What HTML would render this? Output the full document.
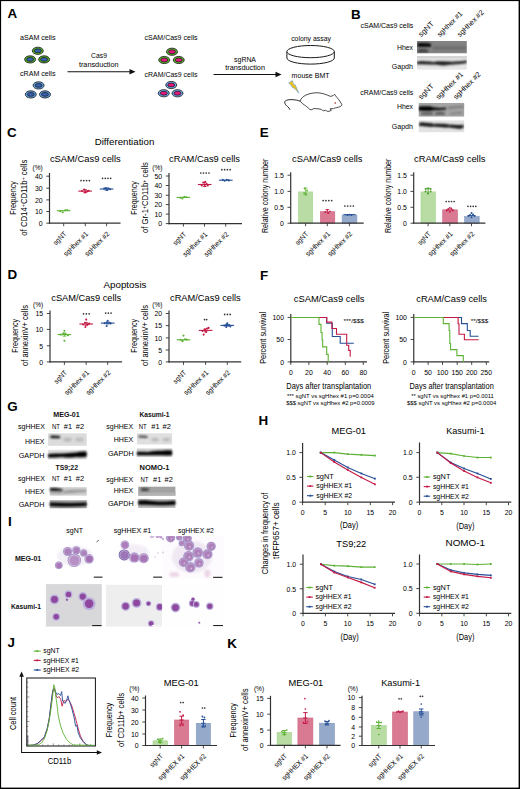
<!DOCTYPE html>
<html><head><meta charset="utf-8"><style>
html,body{margin:0;padding:0;background:#fff;}
svg{display:block;}
text{font-family:"Liberation Sans", sans-serif;}
</style></head><body>
<svg width="520" height="789" viewBox="0 0 520 789">
<defs>
<filter id="bl" x="-20%" y="-50%" width="140%" height="200%"><feGaussianBlur stdDeviation="0.8"/></filter>
<filter id="bl2" x="-20%" y="-50%" width="140%" height="200%"><feGaussianBlur stdDeviation="0.5"/></filter>
<filter id="bl4" x="-20%" y="-150%" width="140%" height="400%"><feGaussianBlur stdDeviation="0.95"/></filter>
<filter id="bl3" x="-20%" y="-20%" width="140%" height="140%"><feGaussianBlur stdDeviation="0.35"/></filter>
</defs>
<rect width="520" height="789" fill="#fff"/>
<text x="7.40" y="17.90" font-size="13.4" font-weight="bold" fill="#000" >A</text>
<text x="351.00" y="18.60" font-size="13.4" font-weight="bold" fill="#000" >B</text>
<text x="20.00" y="40.00" font-size="7" textLength="35.50" lengthAdjust="spacingAndGlyphs" >aSAM cells</text>
<ellipse cx="37.80" cy="50.80" rx="5.50" ry="3.60" fill="#5ab52e" stroke="#111" stroke-width="0.8" />
<ellipse cx="37.80" cy="50.80" rx="3.50" ry="1.95" fill="#3a5fae" stroke="#111" stroke-width="0.7" />
<ellipse cx="30.10" cy="59.40" rx="5.50" ry="3.60" fill="#5ab52e" stroke="#111" stroke-width="0.8" />
<ellipse cx="30.10" cy="59.40" rx="3.50" ry="1.95" fill="#3a5fae" stroke="#111" stroke-width="0.7" />
<ellipse cx="44.10" cy="59.40" rx="5.50" ry="3.60" fill="#5ab52e" stroke="#111" stroke-width="0.8" />
<ellipse cx="44.10" cy="59.40" rx="3.50" ry="1.95" fill="#3a5fae" stroke="#111" stroke-width="0.7" />
<text x="20.00" y="75.50" font-size="7" textLength="35.50" lengthAdjust="spacingAndGlyphs" >cRAM cells</text>
<ellipse cx="38.60" cy="85.40" rx="5.50" ry="3.60" fill="#6aaae6" stroke="#111" stroke-width="0.8" />
<ellipse cx="38.60" cy="85.40" rx="3.50" ry="1.95" fill="#3a5fae" stroke="#111" stroke-width="0.7" />
<ellipse cx="30.80" cy="94.40" rx="5.50" ry="3.60" fill="#6aaae6" stroke="#111" stroke-width="0.8" />
<ellipse cx="30.80" cy="94.40" rx="3.50" ry="1.95" fill="#3a5fae" stroke="#111" stroke-width="0.7" />
<ellipse cx="45.00" cy="94.40" rx="5.50" ry="3.60" fill="#6aaae6" stroke="#111" stroke-width="0.8" />
<ellipse cx="45.00" cy="94.40" rx="3.50" ry="1.95" fill="#3a5fae" stroke="#111" stroke-width="0.7" />
<text x="91.10" y="57.90" font-size="7" textLength="15.80" lengthAdjust="spacingAndGlyphs" >Cas9</text>
<text x="78.90" y="66.70" font-size="7" textLength="39.70" lengthAdjust="spacingAndGlyphs" >transduction</text>
<line x1="67.50" y1="71.75" x2="131.00" y2="71.75" stroke="#111" stroke-width="1" />
<path d="M135.5,71.75 L129.5,69 L129.5,74.5 Z" stroke="none" fill="#111" stroke-width="1" />
<text x="144.50" y="40.00" font-size="7" textLength="53.00" lengthAdjust="spacingAndGlyphs" >cSAM/Cas9 cells</text>
<ellipse cx="172.00" cy="51.75" rx="5.50" ry="3.60" fill="#5ab52e" stroke="#111" stroke-width="0.8" />
<ellipse cx="172.00" cy="51.75" rx="3.50" ry="1.95" fill="#e4187f" stroke="#111" stroke-width="0.7" />
<ellipse cx="164.25" cy="60.00" rx="5.50" ry="3.60" fill="#5ab52e" stroke="#111" stroke-width="0.8" />
<ellipse cx="164.25" cy="60.00" rx="3.50" ry="1.95" fill="#e4187f" stroke="#111" stroke-width="0.7" />
<ellipse cx="178.75" cy="60.00" rx="5.50" ry="3.60" fill="#5ab52e" stroke="#111" stroke-width="0.8" />
<ellipse cx="178.75" cy="60.00" rx="3.50" ry="1.95" fill="#e4187f" stroke="#111" stroke-width="0.7" />
<text x="144.50" y="77.00" font-size="7" textLength="53.00" lengthAdjust="spacingAndGlyphs" >cRAM/Cas9 cells</text>
<ellipse cx="171.25" cy="85.00" rx="5.50" ry="3.60" fill="#6aaae6" stroke="#111" stroke-width="0.8" />
<ellipse cx="171.25" cy="85.00" rx="3.50" ry="1.95" fill="#e4187f" stroke="#111" stroke-width="0.7" />
<ellipse cx="163.75" cy="93.25" rx="5.50" ry="3.60" fill="#6aaae6" stroke="#111" stroke-width="0.8" />
<ellipse cx="163.75" cy="93.25" rx="3.50" ry="1.95" fill="#e4187f" stroke="#111" stroke-width="0.7" />
<ellipse cx="177.50" cy="93.25" rx="5.50" ry="3.60" fill="#6aaae6" stroke="#111" stroke-width="0.8" />
<ellipse cx="177.50" cy="93.25" rx="3.50" ry="1.95" fill="#e4187f" stroke="#111" stroke-width="0.7" />
<text x="234.10" y="61.60" font-size="7" textLength="21.90" lengthAdjust="spacingAndGlyphs" >sgRNA</text>
<text x="225.20" y="70.00" font-size="7" textLength="39.80" lengthAdjust="spacingAndGlyphs" >transduction</text>
<line x1="213.50" y1="74.50" x2="277.00" y2="74.50" stroke="#111" stroke-width="1" />
<path d="M281.5,74.5 L275.5,71.75 L275.5,77.25 Z" stroke="none" fill="#111" stroke-width="1" />
<text x="291.20" y="40.50" font-size="7" textLength="39.70" lengthAdjust="spacingAndGlyphs" >colony assay</text>
<path d="M286.9,51.6 L286.9,58 A23.7,6.1 0 0 0 334.3,58 L334.3,51.6" stroke="#1a1a1a" fill="#fff" stroke-width="1.0" />
<ellipse cx="310.60" cy="51.60" rx="23.70" ry="6.10" fill="#fff" stroke="#1a1a1a" stroke-width="1.0" />
<text x="291.60" y="78.00" font-size="7" textLength="38.00" lengthAdjust="spacingAndGlyphs" >mouse BMT</text>
<path d="M288.6,83 L292.4,80.4 L293.6,84.6 L295.2,84.8 L298.9,93.2 L294.6,88.4 L292.4,87.6 L290.8,85 Z" stroke="#5aa0e0" fill="#f2c11d" stroke-width="0.6" />
<path d="M300,101.1 C296,99.5 288,98.8 285.3,101 C283.8,102.5 285.5,105 287.5,106.5 C288.6,107.4 289.6,108.6 290,109.8" stroke="#111" fill="none" stroke-width="0.9" />
<path d="M300,101.1 C301,98.5 303,96.5 306,95 C310,93.2 314,92.7 318,92.8 C322,93 326,94.5 330.5,96.4 L333.2,95.6 L334.6,94.2 L335.6,95.9 C337.5,98 340,101 341.9,104.6 C342,105.6 340.5,106.6 338.5,107.2 C336,107.8 334.5,108 333.5,108.6 L330,108.8 L331.5,110.3 L329,111.3 C327.5,111.6 326.5,111 325.6,110.3 L323.5,110.8 C322.5,110.8 322,109.7 321.3,109.4 C318,108.6 315.5,108.6 313.5,108.6 L311.8,109.7 L309.8,109.5 C308,107.5 305,105.3 302.5,103.6 Z" stroke="#111" fill="#fff" stroke-width="0.75" />
<circle cx="335.20" cy="103.00" r="0.75" fill="#9a1010" />
<text x="360.50" y="28.20" font-size="7" textLength="52.80" lengthAdjust="spacingAndGlyphs" >cSAM/Cas9 cells</text>
<text x="397.00" y="50.00" font-size="7" textLength="16.00" lengthAdjust="spacingAndGlyphs" >Hhex</text>
<text x="391.70" y="69.00" font-size="7" textLength="21.30" lengthAdjust="spacingAndGlyphs" >Gapdh</text>
<text x="421.20" y="37.30" font-size="7.3" textLength="18.50" lengthAdjust="spacingAndGlyphs" transform="rotate(-45 421.20 37.30)" >sgNT</text>
<text x="439.95" y="37.30" font-size="7.3" textLength="32.50" lengthAdjust="spacingAndGlyphs" transform="rotate(-45 439.95 37.30)" >sgHhex #1</text>
<text x="459.95" y="37.30" font-size="7.3" textLength="34.40" lengthAdjust="spacingAndGlyphs" transform="rotate(-45 459.95 37.30)" >sgHhex #2</text>
<clipPath id="cb1"><rect x="416.9" y="41" width="50" height="12.5"/></clipPath><g clip-path="url(#cb1)">
<rect x="416.90" y="41.00" width="50.00" height="12.50" fill="#838383" />
<path d="M417.50,43.45 L420.00,42.95 L428.00,43.15 L431.00,43.95 L431.00,46.65 L428.00,46.85 L420.00,46.65 L417.50,46.55 Z" stroke="none" fill="#000" stroke-width="1" filter="url(#bl4)" opacity="1.0"/>
<path d="M418.00,49.55 L422.00,48.90 L428.00,49.65 L428.00,52.35 L422.00,52.30 L418.00,52.45 Z" stroke="none" fill="#2a2a2a" stroke-width="1" filter="url(#bl4)" opacity="0.8"/>
<path d="M433.00,46.05 L466.00,46.05 L466.00,49.95 L433.00,49.95 Z" stroke="none" fill="#555" stroke-width="1" filter="url(#bl)" opacity="0.4"/>
</g>
<clipPath id="cb2"><rect x="416.9" y="56" width="50" height="13.75"/></clipPath><g clip-path="url(#cb2)">
<rect x="416.90" y="56.00" width="50.00" height="13.75" fill="#e6e6e6" />
<rect x="416.90" y="56.00" width="50.00" height="2.50" fill="#d4d4d4" filter="url(#bl2)"/>
<path d="M416.90,61.45 L422.00,61.05 L430.00,61.45 L434.00,61.95 L437.00,61.15 L443.00,61.15 L448.00,61.55 L452.00,61.85 L460.00,61.15 L466.90,60.55 L466.90,63.05 L460.00,64.05 L452.00,64.55 L448.00,65.05 L443.00,65.45 L437.00,64.65 L434.00,64.45 L430.00,64.55 L422.00,64.15 L416.90,64.15 Z" stroke="none" fill="#1a1a1a" stroke-width="1" filter="url(#bl4)" opacity="1.0"/>
</g>
<text x="360.30" y="95.20" font-size="7" textLength="53.00" lengthAdjust="spacingAndGlyphs" >cRAM/Cas9 cells</text>
<text x="397.00" y="109.00" font-size="7" textLength="16.00" lengthAdjust="spacingAndGlyphs" >Hhex</text>
<text x="391.70" y="129.00" font-size="7" textLength="21.30" lengthAdjust="spacingAndGlyphs" >Gapdh</text>
<text x="421.20" y="99.80" font-size="7.3" textLength="18.50" lengthAdjust="spacingAndGlyphs" transform="rotate(-45 421.20 99.80)" >sgNT</text>
<text x="438.70" y="99.80" font-size="7.3" textLength="35.50" lengthAdjust="spacingAndGlyphs" transform="rotate(-45 438.70 99.80)" >sgHhex #1</text>
<text x="456.20" y="99.80" font-size="7.3" textLength="35.50" lengthAdjust="spacingAndGlyphs" transform="rotate(-45 456.20 99.80)" >sgHhex #2</text>
<clipPath id="cb3"><rect x="418.5" y="103" width="45.9" height="13.75"/></clipPath><g clip-path="url(#cb3)">
<rect x="418.50" y="103.00" width="45.90" height="13.75" fill="#a5a5a5" />
<path d="M418.50,106.90 L421.00,106.15 L430.00,106.25 L433.00,107.25 L440.00,107.95 L446.00,107.55 L446.00,109.45 L440.00,110.05 L433.00,110.35 L430.00,110.95 L421.00,110.85 L418.50,110.30 Z" stroke="none" fill="#000" stroke-width="1" filter="url(#bl4)" opacity="1.0"/>
<path d="M448.00,106.95 L464.00,105.45 L464.00,107.55 L448.00,109.05 Z" stroke="none" fill="#666" stroke-width="1" filter="url(#bl4)" opacity="0.7"/>
<path d="M421.00,112.40 L428.00,111.95 L433.00,112.40 L433.00,114.80 L428.00,114.85 L421.00,114.80 Z" stroke="none" fill="#444" stroke-width="1" filter="url(#bl4)" opacity="0.8"/>
<path d="M435.00,112.40 L440.00,111.75 L445.00,112.40 L445.00,114.80 L440.00,114.65 L435.00,114.80 Z" stroke="none" fill="#444" stroke-width="1" filter="url(#bl4)" opacity="0.8"/>
<path d="M450.00,112.75 L462.00,111.45 L462.00,113.75 L450.00,114.85 Z" stroke="none" fill="#777" stroke-width="1" filter="url(#bl4)" opacity="0.7"/>
</g>
<clipPath id="cb4"><rect x="418.5" y="120.25" width="45.9" height="12.2"/></clipPath><g clip-path="url(#cb4)">
<rect x="418.50" y="120.25" width="45.90" height="12.20" fill="#e2e2e2" />
<path d="M419.00,122.95 L422.00,122.45 L431.00,123.35 L434.00,124.05 L437.00,123.65 L446.00,124.05 L449.00,124.75 L452.00,124.65 L460.00,125.15 L463.50,124.75 L463.50,127.65 L460.00,128.85 L452.00,127.75 L449.00,127.25 L446.00,127.55 L437.00,126.75 L434.00,126.55 L431.00,126.65 L422.00,125.95 L419.00,125.85 Z" stroke="none" fill="#080808" stroke-width="1" filter="url(#bl4)" opacity="1.0"/>
</g>
<text x="7.10" y="137.30" font-size="13.4" font-weight="bold" fill="#000" >C</text>
<text x="94.70" y="145.40" font-size="8.8" textLength="59.60" lengthAdjust="spacingAndGlyphs" >Differentiation</text>
<text x="49.90" y="162.30" font-size="8.6" textLength="70.80" lengthAdjust="spacingAndGlyphs" >cSAM/Cas9 cells</text>
<text x="169.00" y="162.30" font-size="8.6" textLength="71.00" lengthAdjust="spacingAndGlyphs" >cRAM/Cas9 cells</text>
<line x1="49.50" y1="173.00" x2="49.50" y2="223.80" stroke="#333" stroke-width="1.2" />
<line x1="46.30" y1="176.20" x2="49.50" y2="176.20" stroke="#333" stroke-width="0.9" />
<text x="42.70" y="179.05" font-size="7.3" text-anchor="end" textLength="7.70" lengthAdjust="spacingAndGlyphs" >40</text>
<line x1="46.30" y1="188.20" x2="49.50" y2="188.20" stroke="#333" stroke-width="0.9" />
<text x="42.70" y="191.05" font-size="7.3" text-anchor="end" textLength="7.70" lengthAdjust="spacingAndGlyphs" >30</text>
<line x1="46.30" y1="199.90" x2="49.50" y2="199.90" stroke="#333" stroke-width="0.9" />
<text x="42.70" y="202.75" font-size="7.3" text-anchor="end" textLength="7.70" lengthAdjust="spacingAndGlyphs" >20</text>
<line x1="46.30" y1="211.50" x2="49.50" y2="211.50" stroke="#333" stroke-width="0.9" />
<text x="42.70" y="214.35" font-size="7.3" text-anchor="end" textLength="7.70" lengthAdjust="spacingAndGlyphs" >10</text>
<line x1="46.30" y1="223.20" x2="49.50" y2="223.20" stroke="#333" stroke-width="0.9" />
<text x="42.70" y="226.05" font-size="7.3" text-anchor="end" textLength="3.85" lengthAdjust="spacingAndGlyphs" >0</text>
<line x1="48.90" y1="223.20" x2="120.50" y2="223.20" stroke="#333" stroke-width="1.2" />
<line x1="63.70" y1="223.20" x2="63.70" y2="226.20" stroke="#333" stroke-width="0.9" />
<line x1="85.30" y1="223.20" x2="85.30" y2="226.20" stroke="#333" stroke-width="0.9" />
<line x1="106.60" y1="223.20" x2="106.60" y2="226.20" stroke="#333" stroke-width="0.9" />
<text x="32.50" y="169.80" font-size="6.6" textLength="10.20" lengthAdjust="spacingAndGlyphs" >(%)</text>
<text x="15.50" y="198.00" font-size="8.6" text-anchor="middle" textLength="33.70" lengthAdjust="spacingAndGlyphs" transform="rotate(-90 15.50 198.00)" >Frequency</text>
<text x="26.70" y="197.70" font-size="8.6" text-anchor="middle" textLength="76.00" lengthAdjust="spacingAndGlyphs" transform="rotate(-90 26.70 197.70)" >of CD14<tspan baseline-shift="30%" font-size="6">+</tspan>CD11b<tspan baseline-shift="30%" font-size="6">+</tspan> cells</text>
<line x1="56.90" y1="210.70" x2="70.50" y2="210.70" stroke="#5db234" stroke-width="1.1" />
<circle cx="60.20" cy="211.20" r="1.05" fill="#5db234" />
<circle cx="62.70" cy="212.30" r="1.05" fill="#5db234" />
<circle cx="65.20" cy="210.30" r="1.05" fill="#5db234" />
<circle cx="67.20" cy="210.00" r="1.05" fill="#5db234" />
<line x1="78.30" y1="191.10" x2="91.90" y2="191.10" stroke="#c41a45" stroke-width="1.1" />
<line x1="85.10" y1="189.60" x2="85.10" y2="192.60" stroke="#c41a45" stroke-width="0.9" />
<line x1="83.30" y1="189.60" x2="86.90" y2="189.60" stroke="#c41a45" stroke-width="0.8" />
<line x1="83.30" y1="192.60" x2="86.90" y2="192.60" stroke="#c41a45" stroke-width="0.8" />
<circle cx="82.10" cy="191.00" r="1.05" fill="#c41a45" />
<circle cx="84.10" cy="189.50" r="1.05" fill="#c41a45" />
<circle cx="85.10" cy="192.50" r="1.05" fill="#c41a45" />
<circle cx="87.10" cy="191.40" r="1.05" fill="#c41a45" />
<circle cx="88.60" cy="190.80" r="1.05" fill="#c41a45" />
<line x1="99.80" y1="189.00" x2="113.40" y2="189.00" stroke="#264f96" stroke-width="1.1" />
<line x1="106.60" y1="187.80" x2="106.60" y2="190.20" stroke="#264f96" stroke-width="0.9" />
<line x1="104.80" y1="187.80" x2="108.40" y2="187.80" stroke="#264f96" stroke-width="0.8" />
<line x1="104.80" y1="190.20" x2="108.40" y2="190.20" stroke="#264f96" stroke-width="0.8" />
<circle cx="104.10" cy="188.60" r="1.05" fill="#264f96" />
<circle cx="105.60" cy="188.20" r="1.05" fill="#264f96" />
<circle cx="107.10" cy="190.00" r="1.05" fill="#264f96" />
<circle cx="108.60" cy="188.60" r="1.05" fill="#264f96" />
<circle cx="110.10" cy="189.20" r="1.05" fill="#264f96" />
<circle cx="81.05" cy="180.60" r="0.85" fill="#333" />
<circle cx="83.82" cy="180.60" r="0.85" fill="#333" />
<circle cx="86.58" cy="180.60" r="0.85" fill="#333" />
<circle cx="89.35" cy="180.60" r="0.85" fill="#333" />
<circle cx="102.55" cy="178.30" r="0.85" fill="#333" />
<circle cx="105.25" cy="178.30" r="0.85" fill="#333" />
<circle cx="107.95" cy="178.30" r="0.85" fill="#333" />
<circle cx="110.65" cy="178.30" r="0.85" fill="#333" />
<text x="67.00" y="234.50" font-size="7.2" text-anchor="end" textLength="15.50" lengthAdjust="spacingAndGlyphs" transform="rotate(-45 67.00 234.50)" >sgNT</text>
<text x="88.60" y="234.50" font-size="7.2" text-anchor="end" textLength="31.50" lengthAdjust="spacingAndGlyphs" transform="rotate(-45 88.60 234.50)" >sgHhex #1</text>
<text x="109.90" y="234.50" font-size="7.2" text-anchor="end" textLength="31.50" lengthAdjust="spacingAndGlyphs" transform="rotate(-45 109.90 234.50)" >sgHhex #2</text>
<line x1="169.00" y1="173.00" x2="169.00" y2="224.20" stroke="#333" stroke-width="1.2" />
<line x1="165.80" y1="176.00" x2="169.00" y2="176.00" stroke="#333" stroke-width="0.9" />
<text x="162.20" y="178.85" font-size="7.3" text-anchor="end" textLength="7.70" lengthAdjust="spacingAndGlyphs" >50</text>
<line x1="165.80" y1="185.50" x2="169.00" y2="185.50" stroke="#333" stroke-width="0.9" />
<text x="162.20" y="188.35" font-size="7.3" text-anchor="end" textLength="7.70" lengthAdjust="spacingAndGlyphs" >40</text>
<line x1="165.80" y1="195.30" x2="169.00" y2="195.30" stroke="#333" stroke-width="0.9" />
<text x="162.20" y="198.15" font-size="7.3" text-anchor="end" textLength="7.70" lengthAdjust="spacingAndGlyphs" >30</text>
<line x1="165.80" y1="204.60" x2="169.00" y2="204.60" stroke="#333" stroke-width="0.9" />
<text x="162.20" y="207.45" font-size="7.3" text-anchor="end" textLength="7.70" lengthAdjust="spacingAndGlyphs" >20</text>
<line x1="165.80" y1="214.10" x2="169.00" y2="214.10" stroke="#333" stroke-width="0.9" />
<text x="162.20" y="216.95" font-size="7.3" text-anchor="end" textLength="7.70" lengthAdjust="spacingAndGlyphs" >10</text>
<line x1="165.80" y1="223.60" x2="169.00" y2="223.60" stroke="#333" stroke-width="0.9" />
<text x="162.20" y="226.45" font-size="7.3" text-anchor="end" textLength="3.85" lengthAdjust="spacingAndGlyphs" >0</text>
<line x1="168.40" y1="223.60" x2="242.00" y2="223.60" stroke="#333" stroke-width="1.2" />
<line x1="183.40" y1="223.60" x2="183.40" y2="226.60" stroke="#333" stroke-width="0.9" />
<line x1="204.50" y1="223.60" x2="204.50" y2="226.60" stroke="#333" stroke-width="0.9" />
<line x1="225.70" y1="223.60" x2="225.70" y2="226.60" stroke="#333" stroke-width="0.9" />
<text x="152.30" y="169.80" font-size="6.6" textLength="10.20" lengthAdjust="spacingAndGlyphs" >(%)</text>
<text x="137.00" y="198.00" font-size="8.6" text-anchor="middle" textLength="33.70" lengthAdjust="spacingAndGlyphs" transform="rotate(-90 137.00 198.00)" >Frequency</text>
<text x="148.30" y="197.50" font-size="8.6" text-anchor="middle" textLength="70.90" lengthAdjust="spacingAndGlyphs" transform="rotate(-90 148.30 197.50)" >of Gr-1<tspan baseline-shift="30%" font-size="6">+</tspan>CD11b<tspan baseline-shift="30%" font-size="6">+</tspan> cells</text>
<line x1="176.60" y1="197.40" x2="190.20" y2="197.40" stroke="#5db234" stroke-width="1.1" />
<circle cx="180.40" cy="197.80" r="1.05" fill="#5db234" />
<circle cx="182.40" cy="198.50" r="1.05" fill="#5db234" />
<circle cx="184.40" cy="196.80" r="1.05" fill="#5db234" />
<circle cx="186.40" cy="197.20" r="1.05" fill="#5db234" />
<line x1="197.90" y1="184.50" x2="211.50" y2="184.50" stroke="#c41a45" stroke-width="1.1" />
<line x1="204.70" y1="182.50" x2="204.70" y2="186.50" stroke="#c41a45" stroke-width="0.9" />
<line x1="202.90" y1="182.50" x2="206.50" y2="182.50" stroke="#c41a45" stroke-width="0.8" />
<line x1="202.90" y1="186.50" x2="206.50" y2="186.50" stroke="#c41a45" stroke-width="0.8" />
<circle cx="201.70" cy="185.50" r="1.05" fill="#c41a45" />
<circle cx="203.20" cy="182.50" r="1.05" fill="#c41a45" />
<circle cx="204.70" cy="186.00" r="1.05" fill="#c41a45" />
<circle cx="206.70" cy="184.00" r="1.05" fill="#c41a45" />
<circle cx="207.70" cy="185.50" r="1.05" fill="#c41a45" />
<circle cx="205.20" cy="181.80" r="1.05" fill="#c41a45" />
<line x1="219.00" y1="180.20" x2="232.60" y2="180.20" stroke="#264f96" stroke-width="1.1" />
<circle cx="222.80" cy="179.90" r="1.05" fill="#264f96" />
<circle cx="224.80" cy="180.70" r="1.05" fill="#264f96" />
<circle cx="226.80" cy="179.70" r="1.05" fill="#264f96" />
<circle cx="228.80" cy="180.40" r="1.05" fill="#264f96" />
<circle cx="200.75" cy="173.00" r="0.85" fill="#333" />
<circle cx="203.48" cy="173.00" r="0.85" fill="#333" />
<circle cx="206.22" cy="173.00" r="0.85" fill="#333" />
<circle cx="208.95" cy="173.00" r="0.85" fill="#333" />
<circle cx="221.85" cy="169.70" r="0.85" fill="#333" />
<circle cx="224.62" cy="169.70" r="0.85" fill="#333" />
<circle cx="227.38" cy="169.70" r="0.85" fill="#333" />
<circle cx="230.15" cy="169.70" r="0.85" fill="#333" />
<text x="186.70" y="234.90" font-size="7.2" text-anchor="end" textLength="15.50" lengthAdjust="spacingAndGlyphs" transform="rotate(-45 186.70 234.90)" >sgNT</text>
<text x="207.80" y="234.90" font-size="7.2" text-anchor="end" textLength="31.50" lengthAdjust="spacingAndGlyphs" transform="rotate(-45 207.80 234.90)" >sgHhex #1</text>
<text x="229.00" y="234.90" font-size="7.2" text-anchor="end" textLength="31.50" lengthAdjust="spacingAndGlyphs" transform="rotate(-45 229.00 234.90)" >sgHhex #2</text>
<text x="7.40" y="279.30" font-size="13.4" font-weight="bold" fill="#000" >D</text>
<text x="103.50" y="288.00" font-size="8.8" textLength="43.00" lengthAdjust="spacingAndGlyphs" >Apoptosis</text>
<text x="51.25" y="301.30" font-size="8.6" textLength="70.00" lengthAdjust="spacingAndGlyphs" >cSAM/Cas9 cells</text>
<text x="170.00" y="301.30" font-size="8.6" textLength="70.75" lengthAdjust="spacingAndGlyphs" >cRAM/Cas9 cells</text>
<line x1="50.00" y1="310.60" x2="50.00" y2="362.50" stroke="#333" stroke-width="1.2" />
<line x1="46.80" y1="313.50" x2="50.00" y2="313.50" stroke="#333" stroke-width="0.9" />
<text x="43.20" y="316.35" font-size="7.3" text-anchor="end" textLength="7.70" lengthAdjust="spacingAndGlyphs" >15</text>
<line x1="46.80" y1="329.40" x2="50.00" y2="329.40" stroke="#333" stroke-width="0.9" />
<text x="43.20" y="332.25" font-size="7.3" text-anchor="end" textLength="7.70" lengthAdjust="spacingAndGlyphs" >10</text>
<line x1="46.80" y1="345.80" x2="50.00" y2="345.80" stroke="#333" stroke-width="0.9" />
<text x="43.20" y="348.65" font-size="7.3" text-anchor="end" textLength="3.85" lengthAdjust="spacingAndGlyphs" >5</text>
<line x1="46.80" y1="361.90" x2="50.00" y2="361.90" stroke="#333" stroke-width="0.9" />
<text x="43.20" y="364.75" font-size="7.3" text-anchor="end" textLength="3.85" lengthAdjust="spacingAndGlyphs" >0</text>
<line x1="49.40" y1="361.90" x2="122.10" y2="361.90" stroke="#333" stroke-width="1.2" />
<line x1="64.40" y1="361.90" x2="64.40" y2="364.90" stroke="#333" stroke-width="0.9" />
<line x1="86.20" y1="361.90" x2="86.20" y2="364.90" stroke="#333" stroke-width="0.9" />
<line x1="107.70" y1="361.90" x2="107.70" y2="364.90" stroke="#333" stroke-width="0.9" />
<text x="33.10" y="306.70" font-size="6.6" textLength="10.20" lengthAdjust="spacingAndGlyphs" >(%)</text>
<text x="17.60" y="335.80" font-size="8.6" text-anchor="middle" textLength="33.70" lengthAdjust="spacingAndGlyphs" transform="rotate(-90 17.60 335.80)" >Frequency</text>
<text x="28.20" y="335.50" font-size="8.6" text-anchor="middle" textLength="60.80" lengthAdjust="spacingAndGlyphs" transform="rotate(-90 28.20 335.50)" >of annexinV+ cells</text>
<line x1="57.60" y1="334.60" x2="71.20" y2="334.60" stroke="#5db234" stroke-width="1.1" />
<line x1="64.40" y1="333.00" x2="64.40" y2="336.20" stroke="#5db234" stroke-width="0.9" />
<line x1="62.60" y1="333.00" x2="66.20" y2="333.00" stroke="#5db234" stroke-width="0.8" />
<line x1="62.60" y1="336.20" x2="66.20" y2="336.20" stroke="#5db234" stroke-width="0.8" />
<circle cx="60.90" cy="334.60" r="1.05" fill="#5db234" />
<circle cx="63.40" cy="333.60" r="1.05" fill="#5db234" />
<circle cx="64.40" cy="330.80" r="1.05" fill="#5db234" />
<circle cx="65.90" cy="334.20" r="1.05" fill="#5db234" />
<circle cx="67.90" cy="335.30" r="1.05" fill="#5db234" />
<circle cx="64.40" cy="340.80" r="1.05" fill="#5db234" />
<line x1="79.40" y1="324.00" x2="93.00" y2="324.00" stroke="#c41a45" stroke-width="1.1" />
<line x1="86.20" y1="322.60" x2="86.20" y2="325.40" stroke="#c41a45" stroke-width="0.9" />
<line x1="84.40" y1="322.60" x2="88.00" y2="322.60" stroke="#c41a45" stroke-width="0.8" />
<line x1="84.40" y1="325.40" x2="88.00" y2="325.40" stroke="#c41a45" stroke-width="0.8" />
<circle cx="83.20" cy="324.50" r="1.05" fill="#c41a45" />
<circle cx="85.00" cy="322.80" r="1.05" fill="#c41a45" />
<circle cx="86.20" cy="319.60" r="1.05" fill="#c41a45" />
<circle cx="87.70" cy="324.60" r="1.05" fill="#c41a45" />
<circle cx="89.20" cy="323.60" r="1.05" fill="#c41a45" />
<circle cx="85.40" cy="327.00" r="1.05" fill="#c41a45" />
<line x1="100.90" y1="323.10" x2="114.50" y2="323.10" stroke="#264f96" stroke-width="1.1" />
<line x1="107.70" y1="322.20" x2="107.70" y2="324.00" stroke="#264f96" stroke-width="0.9" />
<line x1="105.90" y1="322.20" x2="109.50" y2="322.20" stroke="#264f96" stroke-width="0.8" />
<line x1="105.90" y1="324.00" x2="109.50" y2="324.00" stroke="#264f96" stroke-width="0.8" />
<circle cx="104.70" cy="323.20" r="1.05" fill="#264f96" />
<circle cx="106.70" cy="322.50" r="1.05" fill="#264f96" />
<circle cx="107.70" cy="320.80" r="1.05" fill="#264f96" />
<circle cx="109.70" cy="322.80" r="1.05" fill="#264f96" />
<circle cx="110.70" cy="323.50" r="1.05" fill="#264f96" />
<circle cx="106.70" cy="326.00" r="1.05" fill="#264f96" />
<circle cx="83.55" cy="313.80" r="0.85" fill="#333" />
<circle cx="86.35" cy="313.80" r="0.85" fill="#333" />
<circle cx="89.15" cy="313.80" r="0.85" fill="#333" />
<circle cx="105.65" cy="313.10" r="0.85" fill="#333" />
<circle cx="108.35" cy="313.10" r="0.85" fill="#333" />
<circle cx="111.05" cy="313.10" r="0.85" fill="#333" />
<text x="67.70" y="373.20" font-size="7.2" text-anchor="end" textLength="15.50" lengthAdjust="spacingAndGlyphs" transform="rotate(-45 67.70 373.20)" >sgNT</text>
<text x="89.50" y="373.20" font-size="7.2" text-anchor="end" textLength="31.50" lengthAdjust="spacingAndGlyphs" transform="rotate(-45 89.50 373.20)" >sgHhex #1</text>
<text x="111.00" y="373.20" font-size="7.2" text-anchor="end" textLength="31.50" lengthAdjust="spacingAndGlyphs" transform="rotate(-45 111.00 373.20)" >sgHhex #2</text>
<line x1="169.00" y1="310.60" x2="169.00" y2="362.50" stroke="#333" stroke-width="1.2" />
<line x1="165.80" y1="313.50" x2="169.00" y2="313.50" stroke="#333" stroke-width="0.9" />
<text x="162.20" y="316.35" font-size="7.3" text-anchor="end" textLength="7.70" lengthAdjust="spacingAndGlyphs" >20</text>
<line x1="165.80" y1="325.60" x2="169.00" y2="325.60" stroke="#333" stroke-width="0.9" />
<text x="162.20" y="328.45" font-size="7.3" text-anchor="end" textLength="7.70" lengthAdjust="spacingAndGlyphs" >15</text>
<line x1="165.80" y1="337.90" x2="169.00" y2="337.90" stroke="#333" stroke-width="0.9" />
<text x="162.20" y="340.75" font-size="7.3" text-anchor="end" textLength="7.70" lengthAdjust="spacingAndGlyphs" >10</text>
<line x1="165.80" y1="350.00" x2="169.00" y2="350.00" stroke="#333" stroke-width="0.9" />
<text x="162.20" y="352.85" font-size="7.3" text-anchor="end" textLength="3.85" lengthAdjust="spacingAndGlyphs" >5</text>
<line x1="165.80" y1="361.90" x2="169.00" y2="361.90" stroke="#333" stroke-width="0.9" />
<text x="162.20" y="364.75" font-size="7.3" text-anchor="end" textLength="3.85" lengthAdjust="spacingAndGlyphs" >0</text>
<line x1="168.40" y1="361.90" x2="241.20" y2="361.90" stroke="#333" stroke-width="1.2" />
<line x1="183.50" y1="361.90" x2="183.50" y2="364.90" stroke="#333" stroke-width="0.9" />
<line x1="205.60" y1="361.90" x2="205.60" y2="364.90" stroke="#333" stroke-width="0.9" />
<line x1="227.30" y1="361.90" x2="227.30" y2="364.90" stroke="#333" stroke-width="0.9" />
<text x="152.30" y="306.70" font-size="6.6" textLength="10.20" lengthAdjust="spacingAndGlyphs" >(%)</text>
<text x="137.10" y="335.80" font-size="8.6" text-anchor="middle" textLength="33.70" lengthAdjust="spacingAndGlyphs" transform="rotate(-90 137.10 335.80)" >Frequency</text>
<text x="147.70" y="335.50" font-size="8.6" text-anchor="middle" textLength="60.80" lengthAdjust="spacingAndGlyphs" transform="rotate(-90 147.70 335.50)" >of annexinV+ cells</text>
<line x1="176.70" y1="339.80" x2="190.30" y2="339.80" stroke="#5db234" stroke-width="1.1" />
<circle cx="180.50" cy="339.80" r="1.05" fill="#5db234" />
<circle cx="182.50" cy="340.50" r="1.05" fill="#5db234" />
<circle cx="183.50" cy="335.60" r="1.05" fill="#5db234" />
<circle cx="185.00" cy="339.20" r="1.05" fill="#5db234" />
<circle cx="186.50" cy="339.60" r="1.05" fill="#5db234" />
<circle cx="182.50" cy="341.30" r="1.05" fill="#5db234" />
<line x1="198.80" y1="330.40" x2="212.40" y2="330.40" stroke="#c41a45" stroke-width="1.1" />
<line x1="205.60" y1="328.90" x2="205.60" y2="331.90" stroke="#c41a45" stroke-width="0.9" />
<line x1="203.80" y1="328.90" x2="207.40" y2="328.90" stroke="#c41a45" stroke-width="0.8" />
<line x1="203.80" y1="331.90" x2="207.40" y2="331.90" stroke="#c41a45" stroke-width="0.8" />
<circle cx="202.60" cy="331.00" r="1.05" fill="#c41a45" />
<circle cx="204.60" cy="329.50" r="1.05" fill="#c41a45" />
<circle cx="203.70" cy="334.60" r="1.05" fill="#c41a45" />
<circle cx="207.10" cy="328.50" r="1.05" fill="#c41a45" />
<circle cx="208.60" cy="327.90" r="1.05" fill="#c41a45" />
<circle cx="206.10" cy="332.00" r="1.05" fill="#c41a45" />
<line x1="220.50" y1="325.40" x2="234.10" y2="325.40" stroke="#264f96" stroke-width="1.1" />
<line x1="227.30" y1="324.60" x2="227.30" y2="326.20" stroke="#264f96" stroke-width="0.9" />
<line x1="225.50" y1="324.60" x2="229.10" y2="324.60" stroke="#264f96" stroke-width="0.8" />
<line x1="225.50" y1="326.20" x2="229.10" y2="326.20" stroke="#264f96" stroke-width="0.8" />
<circle cx="224.30" cy="325.60" r="1.05" fill="#264f96" />
<circle cx="226.30" cy="324.50" r="1.05" fill="#264f96" />
<circle cx="227.30" cy="323.20" r="1.05" fill="#264f96" />
<circle cx="229.30" cy="325.00" r="1.05" fill="#264f96" />
<circle cx="230.30" cy="326.50" r="1.05" fill="#264f96" />
<circle cx="226.30" cy="327.00" r="1.05" fill="#264f96" />
<circle cx="204.55" cy="319.60" r="0.85" fill="#333" />
<circle cx="206.65" cy="319.60" r="0.85" fill="#333" />
<circle cx="224.65" cy="314.40" r="0.85" fill="#333" />
<circle cx="227.40" cy="314.40" r="0.85" fill="#333" />
<circle cx="230.15" cy="314.40" r="0.85" fill="#333" />
<text x="186.80" y="373.20" font-size="7.2" text-anchor="end" textLength="15.50" lengthAdjust="spacingAndGlyphs" transform="rotate(-45 186.80 373.20)" >sgNT</text>
<text x="208.90" y="373.20" font-size="7.2" text-anchor="end" textLength="31.50" lengthAdjust="spacingAndGlyphs" transform="rotate(-45 208.90 373.20)" >sgHhex #1</text>
<text x="230.60" y="373.20" font-size="7.2" text-anchor="end" textLength="31.50" lengthAdjust="spacingAndGlyphs" transform="rotate(-45 230.60 373.20)" >sgHhex #2</text>
<text x="259.80" y="137.10" font-size="13.4" font-weight="bold" fill="#000" >E</text>
<text x="292.00" y="162.30" font-size="8.6" textLength="70.50" lengthAdjust="spacingAndGlyphs" >cSAM/Cas9 cells</text>
<text x="414.00" y="162.30" font-size="8.6" textLength="71.50" lengthAdjust="spacingAndGlyphs" >cRAM/Cas9 cells</text>
<line x1="290.70" y1="172.30" x2="290.70" y2="223.80" stroke="#333" stroke-width="1.2" />
<line x1="287.50" y1="175.20" x2="290.70" y2="175.20" stroke="#333" stroke-width="0.9" />
<text x="283.90" y="178.05" font-size="7.3" text-anchor="end" textLength="9.60" lengthAdjust="spacingAndGlyphs" >1.5</text>
<line x1="287.50" y1="191.40" x2="290.70" y2="191.40" stroke="#333" stroke-width="0.9" />
<text x="283.90" y="194.25" font-size="7.3" text-anchor="end" textLength="9.60" lengthAdjust="spacingAndGlyphs" >1.0</text>
<line x1="287.50" y1="207.30" x2="290.70" y2="207.30" stroke="#333" stroke-width="0.9" />
<text x="283.90" y="210.15" font-size="7.3" text-anchor="end" textLength="9.60" lengthAdjust="spacingAndGlyphs" >0.5</text>
<line x1="287.50" y1="223.20" x2="290.70" y2="223.20" stroke="#333" stroke-width="0.9" />
<text x="283.90" y="226.05" font-size="7.3" text-anchor="end" textLength="3.85" lengthAdjust="spacingAndGlyphs" >0</text>
<rect x="298.50" y="191.90" width="14.20" height="31.30" fill="#b8dca3" stroke="#a3d48c" stroke-width="0.6"/>
<rect x="320.40" y="211.70" width="14.40" height="11.50" fill="#d97a92" stroke="#cc6682" stroke-width="0.6"/>
<rect x="342.10" y="215.00" width="14.80" height="8.20" fill="#95a9cb" stroke="#8399c0" stroke-width="0.6"/>
<line x1="290.10" y1="223.20" x2="363.70" y2="223.20" stroke="#333" stroke-width="1.2" />
<line x1="305.60" y1="223.20" x2="305.60" y2="226.20" stroke="#333" stroke-width="0.9" />
<line x1="327.30" y1="223.20" x2="327.30" y2="226.20" stroke="#333" stroke-width="0.9" />
<line x1="349.40" y1="223.20" x2="349.40" y2="226.20" stroke="#333" stroke-width="0.9" />
<text x="268.20" y="195.80" font-size="8.6" text-anchor="middle" textLength="74.50" lengthAdjust="spacingAndGlyphs" transform="rotate(-90 268.20 195.80)" >Relative colony number</text>
<line x1="305.60" y1="188.00" x2="305.60" y2="195.00" stroke="#5db234" stroke-width="0.8" />
<line x1="303.80" y1="188.00" x2="307.40" y2="188.00" stroke="#5db234" stroke-width="0.8" />
<line x1="303.80" y1="195.00" x2="307.40" y2="195.00" stroke="#5db234" stroke-width="0.8" />
<circle cx="304.60" cy="188.50" r="0.90" fill="#5db234" />
<circle cx="307.10" cy="190.50" r="0.90" fill="#5db234" />
<circle cx="304.10" cy="193.20" r="0.90" fill="#5db234" />
<circle cx="306.10" cy="194.00" r="0.90" fill="#5db234" />
<line x1="327.30" y1="209.50" x2="327.30" y2="213.50" stroke="#c41a45" stroke-width="0.8" />
<line x1="325.50" y1="209.50" x2="329.10" y2="209.50" stroke="#c41a45" stroke-width="0.8" />
<circle cx="325.30" cy="212.00" r="0.90" fill="#c41a45" />
<circle cx="327.30" cy="209.80" r="0.90" fill="#c41a45" />
<circle cx="328.30" cy="213.00" r="0.90" fill="#c41a45" />
<circle cx="329.80" cy="211.30" r="0.90" fill="#c41a45" />
<line x1="343.50" y1="214.60" x2="355.50" y2="214.60" stroke="#264f96" stroke-width="1.0" />
<circle cx="347.40" cy="215.20" r="0.90" fill="#264f96" />
<circle cx="349.40" cy="214.60" r="0.90" fill="#264f96" />
<circle cx="351.40" cy="215.00" r="0.90" fill="#264f96" />
<circle cx="323.15" cy="200.60" r="0.85" fill="#333" />
<circle cx="325.98" cy="200.60" r="0.85" fill="#333" />
<circle cx="328.82" cy="200.60" r="0.85" fill="#333" />
<circle cx="331.65" cy="200.60" r="0.85" fill="#333" />
<circle cx="344.85" cy="206.00" r="0.85" fill="#333" />
<circle cx="347.68" cy="206.00" r="0.85" fill="#333" />
<circle cx="350.52" cy="206.00" r="0.85" fill="#333" />
<circle cx="353.35" cy="206.00" r="0.85" fill="#333" />
<text x="308.90" y="234.50" font-size="7.2" text-anchor="end" textLength="15.50" lengthAdjust="spacingAndGlyphs" transform="rotate(-45 308.90 234.50)" >sgNT</text>
<text x="330.60" y="234.50" font-size="7.2" text-anchor="end" textLength="31.50" lengthAdjust="spacingAndGlyphs" transform="rotate(-45 330.60 234.50)" >sgHhex #1</text>
<text x="352.70" y="234.50" font-size="7.2" text-anchor="end" textLength="31.50" lengthAdjust="spacingAndGlyphs" transform="rotate(-45 352.70 234.50)" >sgHhex #2</text>
<line x1="413.70" y1="172.30" x2="413.70" y2="223.80" stroke="#333" stroke-width="1.2" />
<line x1="410.50" y1="175.20" x2="413.70" y2="175.20" stroke="#333" stroke-width="0.9" />
<text x="406.90" y="178.05" font-size="7.3" text-anchor="end" textLength="9.60" lengthAdjust="spacingAndGlyphs" >1.5</text>
<line x1="410.50" y1="191.40" x2="413.70" y2="191.40" stroke="#333" stroke-width="0.9" />
<text x="406.90" y="194.25" font-size="7.3" text-anchor="end" textLength="9.60" lengthAdjust="spacingAndGlyphs" >1.0</text>
<line x1="410.50" y1="207.30" x2="413.70" y2="207.30" stroke="#333" stroke-width="0.9" />
<text x="406.90" y="210.15" font-size="7.3" text-anchor="end" textLength="9.60" lengthAdjust="spacingAndGlyphs" >0.5</text>
<line x1="410.50" y1="223.20" x2="413.70" y2="223.20" stroke="#333" stroke-width="0.9" />
<text x="406.90" y="226.05" font-size="7.3" text-anchor="end" textLength="3.85" lengthAdjust="spacingAndGlyphs" >0</text>
<rect x="421.00" y="191.90" width="14.40" height="31.30" fill="#b8dca3" stroke="#a3d48c" stroke-width="0.6"/>
<rect x="442.70" y="209.80" width="14.80" height="13.40" fill="#d97a92" stroke="#cc6682" stroke-width="0.6"/>
<rect x="464.60" y="216.50" width="14.60" height="6.70" fill="#95a9cb" stroke="#8399c0" stroke-width="0.6"/>
<line x1="413.10" y1="223.20" x2="485.40" y2="223.20" stroke="#333" stroke-width="1.2" />
<line x1="428.10" y1="223.20" x2="428.10" y2="226.20" stroke="#333" stroke-width="0.9" />
<line x1="449.80" y1="223.20" x2="449.80" y2="226.20" stroke="#333" stroke-width="0.9" />
<line x1="471.50" y1="223.20" x2="471.50" y2="226.20" stroke="#333" stroke-width="0.9" />
<text x="391.10" y="195.80" font-size="8.6" text-anchor="middle" textLength="74.50" lengthAdjust="spacingAndGlyphs" transform="rotate(-90 391.10 195.80)" >Relative colony number</text>
<line x1="428.10" y1="188.30" x2="428.10" y2="194.00" stroke="#4a9a28" stroke-width="0.9" />
<line x1="426.30" y1="188.30" x2="429.90" y2="188.30" stroke="#4a9a28" stroke-width="0.9" />
<circle cx="425.60" cy="189.00" r="1.00" fill="#4a9a28" />
<circle cx="428.10" cy="188.50" r="1.00" fill="#4a9a28" />
<circle cx="430.60" cy="189.00" r="1.00" fill="#4a9a28" />
<circle cx="425.60" cy="191.50" r="1.00" fill="#4a9a28" />
<circle cx="428.10" cy="193.50" r="1.00" fill="#4a9a28" />
<circle cx="430.60" cy="191.50" r="1.00" fill="#4a9a28" />
<circle cx="446.80" cy="210.50" r="0.90" fill="#c41a45" />
<circle cx="448.30" cy="208.80" r="0.90" fill="#c41a45" />
<circle cx="449.80" cy="211.80" r="0.90" fill="#c41a45" />
<circle cx="451.30" cy="208.50" r="0.90" fill="#c41a45" />
<circle cx="452.80" cy="210.50" r="0.90" fill="#c41a45" />
<circle cx="449.80" cy="207.80" r="0.90" fill="#c41a45" />
<line x1="446.00" y1="210.00" x2="453.60" y2="210.00" stroke="#c41a45" stroke-width="0.9" />
<line x1="467.50" y1="215.50" x2="475.50" y2="215.50" stroke="#264f96" stroke-width="0.9" />
<circle cx="468.50" cy="216.00" r="1.00" fill="#264f96" />
<circle cx="470.00" cy="215.00" r="1.00" fill="#264f96" />
<circle cx="471.50" cy="217.20" r="1.00" fill="#264f96" />
<circle cx="473.00" cy="214.50" r="1.00" fill="#264f96" />
<circle cx="474.50" cy="216.00" r="1.00" fill="#264f96" />
<circle cx="471.50" cy="213.00" r="1.00" fill="#264f96" />
<circle cx="446.25" cy="201.50" r="0.85" fill="#333" />
<circle cx="448.88" cy="201.50" r="0.85" fill="#333" />
<circle cx="451.52" cy="201.50" r="0.85" fill="#333" />
<circle cx="454.15" cy="201.50" r="0.85" fill="#333" />
<circle cx="467.95" cy="206.30" r="0.85" fill="#333" />
<circle cx="470.58" cy="206.30" r="0.85" fill="#333" />
<circle cx="473.22" cy="206.30" r="0.85" fill="#333" />
<circle cx="475.85" cy="206.30" r="0.85" fill="#333" />
<text x="431.40" y="234.50" font-size="7.2" text-anchor="end" textLength="15.50" lengthAdjust="spacingAndGlyphs" transform="rotate(-45 431.40 234.50)" >sgNT</text>
<text x="453.10" y="234.50" font-size="7.2" text-anchor="end" textLength="31.50" lengthAdjust="spacingAndGlyphs" transform="rotate(-45 453.10 234.50)" >sgHhex #1</text>
<text x="474.80" y="234.50" font-size="7.2" text-anchor="end" textLength="31.50" lengthAdjust="spacingAndGlyphs" transform="rotate(-45 474.80 234.50)" >sgHhex #2</text>
<text x="260.10" y="279.60" font-size="13.4" font-weight="bold" fill="#000" >F</text>
<text x="293.75" y="302.00" font-size="8.6" textLength="70.75" lengthAdjust="spacingAndGlyphs" >cSAM/Cas9 cells</text>
<text x="416.25" y="302.00" font-size="8.6" textLength="70.75" lengthAdjust="spacingAndGlyphs" >cRAM/Cas9 cells</text>
<line x1="290.80" y1="314.00" x2="290.80" y2="362.50" stroke="#333" stroke-width="1.2" />
<line x1="287.60" y1="317.40" x2="290.80" y2="317.40" stroke="#333" stroke-width="0.9" />
<text x="284.00" y="320.25" font-size="7.3" text-anchor="end" textLength="11.55" lengthAdjust="spacingAndGlyphs" >100</text>
<line x1="287.60" y1="339.50" x2="290.80" y2="339.50" stroke="#333" stroke-width="0.9" />
<text x="284.00" y="342.35" font-size="7.3" text-anchor="end" textLength="7.70" lengthAdjust="spacingAndGlyphs" >50</text>
<line x1="287.60" y1="361.90" x2="290.80" y2="361.90" stroke="#333" stroke-width="0.9" />
<text x="284.00" y="364.75" font-size="7.3" text-anchor="end" textLength="3.85" lengthAdjust="spacingAndGlyphs" >0</text>
<line x1="290.20" y1="361.90" x2="367.00" y2="361.90" stroke="#333" stroke-width="1.2" />
<line x1="290.80" y1="361.90" x2="290.80" y2="364.90" stroke="#333" stroke-width="0.9" />
<text x="290.80" y="374.80" font-size="7.3" text-anchor="middle" textLength="3.85" lengthAdjust="spacingAndGlyphs" >0</text>
<line x1="308.90" y1="361.90" x2="308.90" y2="364.90" stroke="#333" stroke-width="0.9" />
<text x="308.90" y="374.80" font-size="7.3" text-anchor="middle" textLength="7.70" lengthAdjust="spacingAndGlyphs" >20</text>
<line x1="327.20" y1="361.90" x2="327.20" y2="364.90" stroke="#333" stroke-width="0.9" />
<text x="327.20" y="374.80" font-size="7.3" text-anchor="middle" textLength="7.70" lengthAdjust="spacingAndGlyphs" >40</text>
<line x1="345.30" y1="361.90" x2="345.30" y2="364.90" stroke="#333" stroke-width="0.9" />
<text x="345.30" y="374.80" font-size="7.3" text-anchor="middle" textLength="7.70" lengthAdjust="spacingAndGlyphs" >60</text>
<line x1="363.30" y1="361.90" x2="363.30" y2="364.90" stroke="#333" stroke-width="0.9" />
<text x="363.30" y="374.80" font-size="7.3" text-anchor="middle" textLength="7.70" lengthAdjust="spacingAndGlyphs" >80</text>
<text x="266.20" y="337.80" font-size="8.6" text-anchor="middle" textLength="52.00" lengthAdjust="spacingAndGlyphs" transform="rotate(-90 266.20 337.80)" >Percent survival</text>
<path d="M290.8,317.5 H326.7 V323.3 H332.3 V336.5 H340.2 V343.2 H353.8" stroke="#264f96" fill="none" stroke-width="1.1" />
<path d="M290.8,317.5 H326.7 V322.1 H331.9 V328.5 H336.5 V334.2 H346.7 V345.2 H348.7 V350.4 H350.2 V356.7" stroke="#c41a45" fill="none" stroke-width="1.1" />
<path d="M290.8,317.5 H319 V324.4 H321 V332.5 H322.1 V340 H322.7 V346.9 H326.7 V354.4 H328.2 V361.9" stroke="#5db234" fill="none" stroke-width="1.1" />
<text x="343.50" y="322.50" font-size="6" textLength="20.50" lengthAdjust="spacingAndGlyphs" >***/$$$</text>
<line x1="413.75" y1="314.00" x2="413.75" y2="362.50" stroke="#333" stroke-width="1.2" />
<line x1="410.55" y1="317.40" x2="413.75" y2="317.40" stroke="#333" stroke-width="0.9" />
<text x="406.95" y="320.25" font-size="7.3" text-anchor="end" textLength="11.55" lengthAdjust="spacingAndGlyphs" >100</text>
<line x1="410.55" y1="339.50" x2="413.75" y2="339.50" stroke="#333" stroke-width="0.9" />
<text x="406.95" y="342.35" font-size="7.3" text-anchor="end" textLength="7.70" lengthAdjust="spacingAndGlyphs" >50</text>
<line x1="410.55" y1="361.90" x2="413.75" y2="361.90" stroke="#333" stroke-width="0.9" />
<text x="406.95" y="364.75" font-size="7.3" text-anchor="end" textLength="3.85" lengthAdjust="spacingAndGlyphs" >0</text>
<line x1="413.15" y1="361.90" x2="489.20" y2="361.90" stroke="#333" stroke-width="1.2" />
<line x1="413.75" y1="361.90" x2="413.75" y2="364.90" stroke="#333" stroke-width="0.9" />
<text x="413.75" y="374.80" font-size="7.3" text-anchor="middle" textLength="3.85" lengthAdjust="spacingAndGlyphs" >0</text>
<line x1="428.10" y1="361.90" x2="428.10" y2="364.90" stroke="#333" stroke-width="0.9" />
<text x="428.10" y="374.80" font-size="7.3" text-anchor="middle" textLength="7.70" lengthAdjust="spacingAndGlyphs" >50</text>
<line x1="442.50" y1="361.90" x2="442.50" y2="364.90" stroke="#333" stroke-width="0.9" />
<text x="442.50" y="374.80" font-size="7.3" text-anchor="middle" textLength="11.55" lengthAdjust="spacingAndGlyphs" >100</text>
<line x1="457.20" y1="361.90" x2="457.20" y2="364.90" stroke="#333" stroke-width="0.9" />
<text x="457.20" y="374.80" font-size="7.3" text-anchor="middle" textLength="11.55" lengthAdjust="spacingAndGlyphs" >150</text>
<line x1="471.70" y1="361.90" x2="471.70" y2="364.90" stroke="#333" stroke-width="0.9" />
<text x="471.70" y="374.80" font-size="7.3" text-anchor="middle" textLength="11.55" lengthAdjust="spacingAndGlyphs" >200</text>
<line x1="486.30" y1="361.90" x2="486.30" y2="364.90" stroke="#333" stroke-width="0.9" />
<text x="486.30" y="374.80" font-size="7.3" text-anchor="middle" textLength="11.55" lengthAdjust="spacingAndGlyphs" >250</text>
<text x="389.20" y="337.80" font-size="8.6" text-anchor="middle" textLength="52.00" lengthAdjust="spacingAndGlyphs" transform="rotate(-90 389.20 337.80)" >Percent survival</text>
<path d="M413.75,317.5 H461.5 V323.6 H467.3 V330.5 H470.2 V336.3 H478.6" stroke="#264f96" fill="none" stroke-width="1.1" />
<path d="M413.75,317.5 H458.1 V323.8 H459 V334.2 H464.4 V339.8 H478.6" stroke="#c41a45" fill="none" stroke-width="1.1" />
<path d="M413.75,317.5 H443.3 V323.6 H449.1 V330.5 H449.8 V343.5 H450.6 V349.6 H456.9 V355.6 H463.3 V361.9" stroke="#5db234" fill="none" stroke-width="1.1" />
<text x="470.80" y="322.50" font-size="6" textLength="17.50" lengthAdjust="spacingAndGlyphs" >**/$$$</text>
<text x="286.25" y="389.30" font-size="9.3" textLength="85.00" lengthAdjust="spacingAndGlyphs" >Days after transplantation</text>
<text x="409.50" y="389.30" font-size="9.3" textLength="84.25" lengthAdjust="spacingAndGlyphs" >Days after transplantation</text>
<text x="287.00" y="398.20" font-size="5.9" textLength="86.75" lengthAdjust="spacingAndGlyphs" >*** sgNT vs sgHhex #1 p=0.0004</text>
<text x="286.25" y="405.20" font-size="5.9" textLength="88.25" lengthAdjust="spacingAndGlyphs" >$$$ sgNT vs sgHhex #2 p=0.0009</text>
<text x="411.25" y="398.20" font-size="5.9" textLength="82.50" lengthAdjust="spacingAndGlyphs" >** sgNT vs sgHhex #1 p=0.0011</text>
<text x="407.00" y="405.20" font-size="5.9" textLength="89.25" lengthAdjust="spacingAndGlyphs" >$$$ sgNT vs sgHhex #2 p=0.0004</text>
<text x="7.30" y="411.30" font-size="13.4" font-weight="bold" fill="#000" >G</text>
<text x="53.25" y="417.00" font-size="6.6" font-weight="bold" fill="#111" textLength="26.50" lengthAdjust="spacingAndGlyphs" >MEG-01</text>
<text x="18.00" y="428.70" font-size="6.6" textLength="27.00" lengthAdjust="spacingAndGlyphs" >sgHHEX</text>
<text x="52.00" y="428.70" font-size="6.6" textLength="8.00" lengthAdjust="spacingAndGlyphs" >NT</text>
<text x="63.75" y="428.70" font-size="6.6" textLength="8.30" lengthAdjust="spacingAndGlyphs" >#1</text>
<text x="75.75" y="428.70" font-size="6.6" textLength="8.30" lengthAdjust="spacingAndGlyphs" >#2</text>
<text x="25.00" y="443.70" font-size="6.6" textLength="19.50" lengthAdjust="spacingAndGlyphs" >HHEX</text>
<text x="18.75" y="458.00" font-size="6.6" textLength="25.70" lengthAdjust="spacingAndGlyphs" >GAPDH</text>
<rect x="48.10" y="433.30" width="38.60" height="12.50" fill="#dcdcdc" />
<path d="M50.40,435.85 L52.00,435.45 L58.00,435.65 L60.20,436.15 L60.20,438.25 L58.00,438.35 L52.00,438.15 L50.40,437.95 Z" stroke="none" fill="#151515" stroke-width="1" filter="url(#bl4)" opacity="1.0"/>
<ellipse cx="67.50" cy="439.60" rx="4.50" ry="2.20" fill="#b9b9b9" stroke="none" stroke-width="1" filter="url(#bl)"/>
<ellipse cx="79.50" cy="439.60" rx="4.50" ry="2.20" fill="#bdbdbd" stroke="none" stroke-width="1" filter="url(#bl)"/>
<rect x="48.10" y="449.80" width="38.60" height="9.60" fill="#dedede" />
<path d="M48.10,454.05 L55.00,453.55 L62.00,453.55 L66.00,453.25 L72.00,452.85 L76.00,452.55 L80.00,451.65 L85.00,451.45 L86.70,452.05 L86.70,456.55 L85.00,456.95 L80.00,457.15 L76.00,457.05 L72.00,457.55 L66.00,457.55 L62.00,457.05 L55.00,457.45 L48.10,457.55 Z" stroke="none" fill="#050505" stroke-width="1" filter="url(#bl4)" opacity="1.0"/>
<text x="55.50" y="470.00" font-size="6.6" font-weight="bold" fill="#111" textLength="22.50" lengthAdjust="spacingAndGlyphs" >TS9;22</text>
<text x="18.00" y="481.20" font-size="6.6" textLength="27.00" lengthAdjust="spacingAndGlyphs" >sgHHEX</text>
<text x="52.00" y="481.20" font-size="6.6" textLength="8.00" lengthAdjust="spacingAndGlyphs" >NT</text>
<text x="63.75" y="481.20" font-size="6.6" textLength="8.30" lengthAdjust="spacingAndGlyphs" >#1</text>
<text x="75.75" y="481.20" font-size="6.6" textLength="8.30" lengthAdjust="spacingAndGlyphs" >#2</text>
<text x="25.00" y="494.20" font-size="6.6" textLength="19.50" lengthAdjust="spacingAndGlyphs" >HHEX</text>
<text x="18.75" y="507.00" font-size="6.6" textLength="25.70" lengthAdjust="spacingAndGlyphs" >GAPDH</text>
<rect x="49.80" y="487.20" width="36.90" height="8.40" fill="#cfcfcf" />
<path d="M50.00,488.25 L55.00,488.05 L60.00,488.75 L62.50,489.55 L62.50,491.25 L60.00,491.25 L55.00,491.15 L50.00,490.95 Z" stroke="none" fill="#111" stroke-width="1" filter="url(#bl4)" opacity="1.0"/>
<path d="M63.00,491.15 L70.00,490.25 L78.00,490.05 L86.00,490.05 L86.00,491.95 L78.00,492.35 L70.00,492.95 L63.00,493.25 Z" stroke="none" fill="#8a8a8a" stroke-width="1" filter="url(#bl4)" opacity="0.9"/>
<path d="M50.00,491.65 L62.00,491.75 L62.00,493.85 L50.00,493.55 Z" stroke="none" fill="#888" stroke-width="1" filter="url(#bl4)" opacity="0.7"/>
<rect x="49.80" y="500.20" width="36.90" height="8.10" fill="#a9a9a9" />
<path d="M49.80,502.55 L60.00,502.75 L70.00,503.05 L80.00,502.85 L86.70,502.55 L86.70,505.85 L80.00,506.35 L70.00,506.55 L60.00,506.45 L49.80,506.05 Z" stroke="none" fill="#050505" stroke-width="1" filter="url(#bl4)" opacity="1.0"/>
<text x="139.50" y="417.00" font-size="6.6" font-weight="bold" fill="#111" textLength="30.00" lengthAdjust="spacingAndGlyphs" >Kasumi-1</text>
<text x="106.25" y="428.70" font-size="6.6" textLength="27.00" lengthAdjust="spacingAndGlyphs" >sgHHEX</text>
<text x="138.75" y="428.70" font-size="6.6" textLength="8.00" lengthAdjust="spacingAndGlyphs" >NT</text>
<text x="151.25" y="428.70" font-size="6.6" textLength="8.30" lengthAdjust="spacingAndGlyphs" >#1</text>
<text x="162.50" y="428.70" font-size="6.6" textLength="8.30" lengthAdjust="spacingAndGlyphs" >#2</text>
<text x="113.75" y="442.00" font-size="6.6" textLength="19.50" lengthAdjust="spacingAndGlyphs" >HHEX</text>
<text x="108.00" y="456.20" font-size="6.6" textLength="25.70" lengthAdjust="spacingAndGlyphs" >GAPDH</text>
<rect x="136.90" y="433.30" width="35.20" height="11.20" fill="#dfdfdf" />
<path d="M138.50,435.55 L142.00,435.55 L147.50,436.05 L147.50,437.95 L142.00,437.85 L138.50,437.45 Z" stroke="none" fill="#444" stroke-width="1" filter="url(#bl4)" opacity="1.0"/>
<ellipse cx="155.00" cy="439.60" rx="4.00" ry="1.80" fill="#bbb" stroke="none" stroke-width="1" filter="url(#bl)"/>
<ellipse cx="166.50" cy="439.60" rx="4.00" ry="1.80" fill="#bbb" stroke="none" stroke-width="1" filter="url(#bl)"/>
<rect x="136.90" y="448.40" width="35.20" height="8.40" fill="#d6d6d6" />
<path d="M136.90,451.85 L143.00,451.65 L148.00,452.05 L152.00,451.15 L158.00,450.75 L162.00,450.65 L167.00,450.15 L172.10,450.45 L172.10,455.35 L167.00,455.45 L162.00,455.15 L158.00,455.25 L152.00,455.25 L148.00,455.15 L143.00,455.35 L136.90,455.35 Z" stroke="none" fill="#050505" stroke-width="1" filter="url(#bl4)" opacity="1.0"/>
<text x="139.50" y="470.00" font-size="6.6" font-weight="bold" fill="#111" textLength="30.00" lengthAdjust="spacingAndGlyphs" >NOMO-1</text>
<text x="106.25" y="482.00" font-size="6.6" textLength="27.00" lengthAdjust="spacingAndGlyphs" >sgHHEX</text>
<text x="140.50" y="482.00" font-size="6.6" textLength="8.00" lengthAdjust="spacingAndGlyphs" >NT</text>
<text x="153.00" y="482.00" font-size="6.6" textLength="8.30" lengthAdjust="spacingAndGlyphs" >#1</text>
<text x="164.50" y="482.00" font-size="6.6" textLength="8.30" lengthAdjust="spacingAndGlyphs" >#2</text>
<text x="113.75" y="493.00" font-size="6.6" textLength="19.50" lengthAdjust="spacingAndGlyphs" >HHEX</text>
<text x="108.00" y="505.50" font-size="6.6" textLength="25.70" lengthAdjust="spacingAndGlyphs" >GAPDH</text>
<rect x="138.20" y="486.70" width="37.20" height="8.90" fill="#a2a2a2" />
<rect x="138.20" y="492.50" width="37.20" height="3.10" fill="#b2b2b2" filter="url(#bl2)"/>
<path d="M141.00,488.70 L144.00,488.35 L149.00,488.80 L149.00,490.60 L144.00,490.65 L141.00,490.50 Z" stroke="none" fill="#2a2a2a" stroke-width="1" filter="url(#bl4)" opacity="1.0"/>
<rect x="138.20" y="499.20" width="37.20" height="8.70" fill="#b8b8b8" />
<path d="M138.20,500.55 L145.00,500.35 L152.00,500.95 L158.00,501.45 L166.00,501.45 L175.40,500.85 L175.40,504.75 L166.00,505.35 L158.00,505.35 L152.00,505.05 L145.00,504.85 L138.20,504.65 Z" stroke="none" fill="#050505" stroke-width="1" filter="url(#bl4)" opacity="1.0"/>
<text x="258.40" y="424.60" font-size="13.4" font-weight="bold" fill="#000" >H</text>
<text x="331.50" y="433.80" font-size="8.6" textLength="34.50" lengthAdjust="spacingAndGlyphs" >MEG-01</text>
<line x1="302.60" y1="443.00" x2="302.60" y2="502.80" stroke="#333" stroke-width="1.2" />
<line x1="299.40" y1="452.60" x2="302.60" y2="452.60" stroke="#333" stroke-width="0.9" />
<text x="295.80" y="455.45" font-size="7.3" text-anchor="end" textLength="9.60" lengthAdjust="spacingAndGlyphs" >1.0</text>
<line x1="299.40" y1="477.30" x2="302.60" y2="477.30" stroke="#333" stroke-width="0.9" />
<text x="295.80" y="480.15" font-size="7.3" text-anchor="end" textLength="9.60" lengthAdjust="spacingAndGlyphs" >0.5</text>
<line x1="299.40" y1="502.20" x2="302.60" y2="502.20" stroke="#333" stroke-width="0.9" />
<text x="295.80" y="505.05" font-size="7.3" text-anchor="end" textLength="3.85" lengthAdjust="spacingAndGlyphs" >0</text>
<line x1="302.00" y1="502.20" x2="395.00" y2="502.20" stroke="#333" stroke-width="1.2" />
<line x1="302.60" y1="502.20" x2="302.60" y2="505.20" stroke="#333" stroke-width="0.9" />
<text x="302.60" y="515.00" font-size="7.3" text-anchor="middle" textLength="3.85" lengthAdjust="spacingAndGlyphs" >0</text>
<line x1="325.20" y1="502.20" x2="325.20" y2="505.20" stroke="#333" stroke-width="0.9" />
<text x="325.20" y="515.00" font-size="7.3" text-anchor="middle" textLength="3.85" lengthAdjust="spacingAndGlyphs" >5</text>
<line x1="347.80" y1="502.20" x2="347.80" y2="505.20" stroke="#333" stroke-width="0.9" />
<text x="347.80" y="515.00" font-size="7.3" text-anchor="middle" textLength="7.70" lengthAdjust="spacingAndGlyphs" >10</text>
<line x1="370.30" y1="502.20" x2="370.30" y2="505.20" stroke="#333" stroke-width="0.9" />
<text x="370.30" y="515.00" font-size="7.3" text-anchor="middle" textLength="7.70" lengthAdjust="spacingAndGlyphs" >15</text>
<line x1="392.60" y1="502.20" x2="392.60" y2="505.20" stroke="#333" stroke-width="0.9" />
<text x="392.60" y="515.00" font-size="7.3" text-anchor="middle" textLength="7.70" lengthAdjust="spacingAndGlyphs" >20</text>
<text x="340.00" y="528.00" font-size="8.8" textLength="18.20" lengthAdjust="spacingAndGlyphs" >(Day)</text>
<polyline points="320.68,452.60 334.24,452.60 347.80,454.09 361.36,454.83 374.92,455.58" fill="none" stroke="#5db234" stroke-width="1.1"/>
<rect x="319.78" y="451.70" width="1.80" height="1.80" fill="#5db234" />
<rect x="333.34" y="451.70" width="1.80" height="1.80" fill="#5db234" />
<rect x="346.90" y="453.19" width="1.80" height="1.80" fill="#5db234" />
<rect x="360.46" y="453.93" width="1.80" height="1.80" fill="#5db234" />
<rect x="374.02" y="454.68" width="1.80" height="1.80" fill="#5db234" />
<polyline points="320.68,452.60 334.24,460.04 347.80,467.48 361.36,473.43 374.92,478.64" fill="none" stroke="#264f96" stroke-width="1.1"/>
<rect x="319.78" y="451.70" width="1.80" height="1.80" fill="#264f96" />
<rect x="333.34" y="459.14" width="1.80" height="1.80" fill="#264f96" />
<rect x="346.90" y="466.58" width="1.80" height="1.80" fill="#264f96" />
<rect x="360.46" y="472.53" width="1.80" height="1.80" fill="#264f96" />
<rect x="374.02" y="477.74" width="1.80" height="1.80" fill="#264f96" />
<polyline points="320.68,452.60 334.24,462.02 347.80,469.96 361.36,477.40 374.92,484.34" fill="none" stroke="#c41a45" stroke-width="1.1"/>
<rect x="319.78" y="451.70" width="1.80" height="1.80" fill="#c41a45" />
<rect x="333.34" y="461.12" width="1.80" height="1.80" fill="#c41a45" />
<rect x="346.90" y="469.06" width="1.80" height="1.80" fill="#c41a45" />
<rect x="360.46" y="476.50" width="1.80" height="1.80" fill="#c41a45" />
<rect x="374.02" y="483.44" width="1.80" height="1.80" fill="#c41a45" />
<line x1="307.00" y1="476.50" x2="313.50" y2="476.50" stroke="#5db234" stroke-width="1.1" />
<rect x="309.40" y="475.60" width="1.80" height="1.80" fill="#5db234" />
<text x="316.20" y="478.80" font-size="6.8" textLength="17.50" lengthAdjust="spacingAndGlyphs" >sgNT</text>
<line x1="307.00" y1="486.10" x2="313.50" y2="486.10" stroke="#c41a45" stroke-width="1.1" />
<rect x="309.40" y="485.20" width="1.80" height="1.80" fill="#c41a45" />
<text x="316.20" y="488.40" font-size="6.8" textLength="36.00" lengthAdjust="spacingAndGlyphs" >sgHHEX #1</text>
<line x1="307.00" y1="495.70" x2="313.50" y2="495.70" stroke="#264f96" stroke-width="1.1" />
<rect x="309.40" y="494.80" width="1.80" height="1.80" fill="#264f96" />
<text x="316.20" y="498.00" font-size="6.8" textLength="36.00" lengthAdjust="spacingAndGlyphs" >sgHHEX #2</text>
<text x="446.25" y="433.80" font-size="8.6" textLength="38.25" lengthAdjust="spacingAndGlyphs" >Kasumi-1</text>
<line x1="419.50" y1="442.50" x2="419.50" y2="502.80" stroke="#333" stroke-width="1.2" />
<line x1="416.30" y1="452.60" x2="419.50" y2="452.60" stroke="#333" stroke-width="0.9" />
<text x="412.70" y="455.45" font-size="7.3" text-anchor="end" textLength="9.60" lengthAdjust="spacingAndGlyphs" >1.0</text>
<line x1="416.30" y1="477.30" x2="419.50" y2="477.30" stroke="#333" stroke-width="0.9" />
<text x="412.70" y="480.15" font-size="7.3" text-anchor="end" textLength="9.60" lengthAdjust="spacingAndGlyphs" >0.5</text>
<line x1="416.30" y1="502.20" x2="419.50" y2="502.20" stroke="#333" stroke-width="0.9" />
<text x="412.70" y="505.05" font-size="7.3" text-anchor="end" textLength="3.85" lengthAdjust="spacingAndGlyphs" >0</text>
<line x1="418.90" y1="502.20" x2="511.30" y2="502.20" stroke="#333" stroke-width="1.2" />
<line x1="419.50" y1="502.20" x2="419.50" y2="505.20" stroke="#333" stroke-width="0.9" />
<text x="419.50" y="515.00" font-size="7.3" text-anchor="middle" textLength="3.85" lengthAdjust="spacingAndGlyphs" >0</text>
<line x1="441.80" y1="502.20" x2="441.80" y2="505.20" stroke="#333" stroke-width="0.9" />
<text x="441.80" y="515.00" font-size="7.3" text-anchor="middle" textLength="3.85" lengthAdjust="spacingAndGlyphs" >5</text>
<line x1="464.00" y1="502.20" x2="464.00" y2="505.20" stroke="#333" stroke-width="0.9" />
<text x="464.00" y="515.00" font-size="7.3" text-anchor="middle" textLength="7.70" lengthAdjust="spacingAndGlyphs" >10</text>
<line x1="486.30" y1="502.20" x2="486.30" y2="505.20" stroke="#333" stroke-width="0.9" />
<text x="486.30" y="515.00" font-size="7.3" text-anchor="middle" textLength="7.70" lengthAdjust="spacingAndGlyphs" >15</text>
<line x1="508.50" y1="502.20" x2="508.50" y2="505.20" stroke="#333" stroke-width="0.9" />
<text x="508.50" y="515.00" font-size="7.3" text-anchor="middle" textLength="7.70" lengthAdjust="spacingAndGlyphs" >20</text>
<text x="456.25" y="528.50" font-size="8.8" textLength="18.20" lengthAdjust="spacingAndGlyphs" >(Day)</text>
<polyline points="437.34,452.60 450.72,453.59 464.10,456.07 477.48,457.56 490.86,457.56" fill="none" stroke="#5db234" stroke-width="1.1"/>
<rect x="436.44" y="451.70" width="1.80" height="1.80" fill="#5db234" />
<rect x="449.82" y="452.69" width="1.80" height="1.80" fill="#5db234" />
<rect x="463.20" y="455.17" width="1.80" height="1.80" fill="#5db234" />
<rect x="476.58" y="456.66" width="1.80" height="1.80" fill="#5db234" />
<rect x="489.96" y="456.66" width="1.80" height="1.80" fill="#5db234" />
<polyline points="437.34,452.60 450.72,462.52 464.10,468.47 477.48,473.43 490.86,478.89" fill="none" stroke="#264f96" stroke-width="1.1"/>
<rect x="436.44" y="451.70" width="1.80" height="1.80" fill="#264f96" />
<rect x="449.82" y="461.62" width="1.80" height="1.80" fill="#264f96" />
<rect x="463.20" y="467.57" width="1.80" height="1.80" fill="#264f96" />
<rect x="476.58" y="472.53" width="1.80" height="1.80" fill="#264f96" />
<rect x="489.96" y="477.99" width="1.80" height="1.80" fill="#264f96" />
<polyline points="437.34,452.60 450.72,463.02 464.10,470.95 477.48,477.40 490.86,482.86" fill="none" stroke="#c41a45" stroke-width="1.1"/>
<rect x="436.44" y="451.70" width="1.80" height="1.80" fill="#c41a45" />
<rect x="449.82" y="462.12" width="1.80" height="1.80" fill="#c41a45" />
<rect x="463.20" y="470.05" width="1.80" height="1.80" fill="#c41a45" />
<rect x="476.58" y="476.50" width="1.80" height="1.80" fill="#c41a45" />
<rect x="489.96" y="481.96" width="1.80" height="1.80" fill="#c41a45" />
<line x1="423.70" y1="477.00" x2="430.20" y2="477.00" stroke="#5db234" stroke-width="1.1" />
<rect x="426.10" y="476.10" width="1.80" height="1.80" fill="#5db234" />
<text x="432.90" y="479.30" font-size="6.8" textLength="17.50" lengthAdjust="spacingAndGlyphs" >sgNT</text>
<line x1="423.70" y1="486.60" x2="430.20" y2="486.60" stroke="#c41a45" stroke-width="1.1" />
<rect x="426.10" y="485.70" width="1.80" height="1.80" fill="#c41a45" />
<text x="432.90" y="488.90" font-size="6.8" textLength="36.00" lengthAdjust="spacingAndGlyphs" >sgHHEX #1</text>
<line x1="423.70" y1="496.20" x2="430.20" y2="496.20" stroke="#264f96" stroke-width="1.1" />
<rect x="426.10" y="495.30" width="1.80" height="1.80" fill="#264f96" />
<text x="432.90" y="498.50" font-size="6.8" textLength="36.00" lengthAdjust="spacingAndGlyphs" >sgHHEX #2</text>
<text x="336.25" y="547.00" font-size="8.6" textLength="30.00" lengthAdjust="spacingAndGlyphs" >TS9;22</text>
<line x1="303.00" y1="554.50" x2="303.00" y2="613.90" stroke="#333" stroke-width="1.2" />
<line x1="299.80" y1="564.20" x2="303.00" y2="564.20" stroke="#333" stroke-width="0.9" />
<text x="296.20" y="567.05" font-size="7.3" text-anchor="end" textLength="9.60" lengthAdjust="spacingAndGlyphs" >1.0</text>
<line x1="299.80" y1="588.80" x2="303.00" y2="588.80" stroke="#333" stroke-width="0.9" />
<text x="296.20" y="591.65" font-size="7.3" text-anchor="end" textLength="9.60" lengthAdjust="spacingAndGlyphs" >0.5</text>
<line x1="299.80" y1="613.30" x2="303.00" y2="613.30" stroke="#333" stroke-width="0.9" />
<text x="296.20" y="616.15" font-size="7.3" text-anchor="end" textLength="3.85" lengthAdjust="spacingAndGlyphs" >0</text>
<line x1="302.40" y1="613.30" x2="395.00" y2="613.30" stroke="#333" stroke-width="1.2" />
<line x1="303.00" y1="613.30" x2="303.00" y2="616.30" stroke="#333" stroke-width="0.9" />
<text x="303.00" y="626.10" font-size="7.3" text-anchor="middle" textLength="3.85" lengthAdjust="spacingAndGlyphs" >0</text>
<line x1="325.40" y1="613.30" x2="325.40" y2="616.30" stroke="#333" stroke-width="0.9" />
<text x="325.40" y="626.10" font-size="7.3" text-anchor="middle" textLength="3.85" lengthAdjust="spacingAndGlyphs" >5</text>
<line x1="347.70" y1="613.30" x2="347.70" y2="616.30" stroke="#333" stroke-width="0.9" />
<text x="347.70" y="626.10" font-size="7.3" text-anchor="middle" textLength="7.70" lengthAdjust="spacingAndGlyphs" >10</text>
<line x1="370.10" y1="613.30" x2="370.10" y2="616.30" stroke="#333" stroke-width="0.9" />
<text x="370.10" y="626.10" font-size="7.3" text-anchor="middle" textLength="7.70" lengthAdjust="spacingAndGlyphs" >15</text>
<line x1="392.50" y1="613.30" x2="392.50" y2="616.30" stroke="#333" stroke-width="0.9" />
<text x="392.50" y="626.10" font-size="7.3" text-anchor="middle" textLength="7.70" lengthAdjust="spacingAndGlyphs" >20</text>
<text x="340.50" y="639.50" font-size="8.8" textLength="18.20" lengthAdjust="spacingAndGlyphs" >(Day)</text>
<polyline points="320.92,564.20 334.36,565.67 347.80,566.16 361.24,567.15 374.68,567.15" fill="none" stroke="#5db234" stroke-width="1.1"/>
<rect x="320.02" y="563.30" width="1.80" height="1.80" fill="#5db234" />
<rect x="333.46" y="564.77" width="1.80" height="1.80" fill="#5db234" />
<rect x="346.90" y="565.26" width="1.80" height="1.80" fill="#5db234" />
<rect x="360.34" y="566.25" width="1.80" height="1.80" fill="#5db234" />
<rect x="373.78" y="566.25" width="1.80" height="1.80" fill="#5db234" />
<polyline points="320.92,564.20 334.36,571.57 347.80,576.48 361.24,579.42 374.68,584.33" fill="none" stroke="#264f96" stroke-width="1.1"/>
<rect x="320.02" y="563.30" width="1.80" height="1.80" fill="#264f96" />
<rect x="333.46" y="570.67" width="1.80" height="1.80" fill="#264f96" />
<rect x="346.90" y="575.58" width="1.80" height="1.80" fill="#264f96" />
<rect x="360.34" y="578.52" width="1.80" height="1.80" fill="#264f96" />
<rect x="373.78" y="583.43" width="1.80" height="1.80" fill="#264f96" />
<polyline points="320.92,564.20 334.36,572.55 347.80,577.46 361.24,582.37 374.68,587.77" fill="none" stroke="#c41a45" stroke-width="1.1"/>
<rect x="320.02" y="563.30" width="1.80" height="1.80" fill="#c41a45" />
<rect x="333.46" y="571.65" width="1.80" height="1.80" fill="#c41a45" />
<rect x="346.90" y="576.56" width="1.80" height="1.80" fill="#c41a45" />
<rect x="360.34" y="581.47" width="1.80" height="1.80" fill="#c41a45" />
<rect x="373.78" y="586.87" width="1.80" height="1.80" fill="#c41a45" />
<line x1="306.30" y1="587.50" x2="312.80" y2="587.50" stroke="#5db234" stroke-width="1.1" />
<rect x="308.70" y="586.60" width="1.80" height="1.80" fill="#5db234" />
<text x="315.50" y="589.80" font-size="6.8" textLength="17.50" lengthAdjust="spacingAndGlyphs" >sgNT</text>
<line x1="306.30" y1="597.10" x2="312.80" y2="597.10" stroke="#c41a45" stroke-width="1.1" />
<rect x="308.70" y="596.20" width="1.80" height="1.80" fill="#c41a45" />
<text x="315.50" y="599.40" font-size="6.8" textLength="36.00" lengthAdjust="spacingAndGlyphs" >sgHHEX #1</text>
<line x1="306.30" y1="606.70" x2="312.80" y2="606.70" stroke="#264f96" stroke-width="1.1" />
<rect x="308.70" y="605.80" width="1.80" height="1.80" fill="#264f96" />
<text x="315.50" y="609.00" font-size="6.8" textLength="36.00" lengthAdjust="spacingAndGlyphs" >sgHHEX #2</text>
<text x="445.50" y="545.80" font-size="8.6" textLength="39.50" lengthAdjust="spacingAndGlyphs" >NOMO-1</text>
<line x1="419.50" y1="554.50" x2="419.50" y2="613.90" stroke="#333" stroke-width="1.2" />
<line x1="416.30" y1="564.00" x2="419.50" y2="564.00" stroke="#333" stroke-width="0.9" />
<text x="412.70" y="566.85" font-size="7.3" text-anchor="end" textLength="9.60" lengthAdjust="spacingAndGlyphs" >1.0</text>
<line x1="416.30" y1="588.60" x2="419.50" y2="588.60" stroke="#333" stroke-width="0.9" />
<text x="412.70" y="591.45" font-size="7.3" text-anchor="end" textLength="9.60" lengthAdjust="spacingAndGlyphs" >0.5</text>
<line x1="416.30" y1="613.30" x2="419.50" y2="613.30" stroke="#333" stroke-width="0.9" />
<text x="412.70" y="616.15" font-size="7.3" text-anchor="end" textLength="3.85" lengthAdjust="spacingAndGlyphs" >0</text>
<line x1="418.90" y1="613.30" x2="511.30" y2="613.30" stroke="#333" stroke-width="1.2" />
<line x1="419.50" y1="613.30" x2="419.50" y2="616.30" stroke="#333" stroke-width="0.9" />
<text x="419.50" y="626.10" font-size="7.3" text-anchor="middle" textLength="3.85" lengthAdjust="spacingAndGlyphs" >0</text>
<line x1="441.80" y1="613.30" x2="441.80" y2="616.30" stroke="#333" stroke-width="0.9" />
<text x="441.80" y="626.10" font-size="7.3" text-anchor="middle" textLength="3.85" lengthAdjust="spacingAndGlyphs" >5</text>
<line x1="464.00" y1="613.30" x2="464.00" y2="616.30" stroke="#333" stroke-width="0.9" />
<text x="464.00" y="626.10" font-size="7.3" text-anchor="middle" textLength="7.70" lengthAdjust="spacingAndGlyphs" >10</text>
<line x1="486.30" y1="613.30" x2="486.30" y2="616.30" stroke="#333" stroke-width="0.9" />
<text x="486.30" y="626.10" font-size="7.3" text-anchor="middle" textLength="7.70" lengthAdjust="spacingAndGlyphs" >15</text>
<line x1="508.50" y1="613.30" x2="508.50" y2="616.30" stroke="#333" stroke-width="0.9" />
<text x="508.50" y="626.10" font-size="7.3" text-anchor="middle" textLength="7.70" lengthAdjust="spacingAndGlyphs" >20</text>
<text x="456.25" y="639.50" font-size="8.8" textLength="18.20" lengthAdjust="spacingAndGlyphs" >(Day)</text>
<polyline points="437.34,564.00 450.72,564.00 464.10,564.00 477.48,564.49 490.86,564.00" fill="none" stroke="#5db234" stroke-width="1.1"/>
<rect x="436.44" y="563.10" width="1.80" height="1.80" fill="#5db234" />
<rect x="449.82" y="563.10" width="1.80" height="1.80" fill="#5db234" />
<rect x="463.20" y="563.10" width="1.80" height="1.80" fill="#5db234" />
<rect x="476.58" y="563.59" width="1.80" height="1.80" fill="#5db234" />
<rect x="489.96" y="563.10" width="1.80" height="1.80" fill="#5db234" />
<polyline points="437.34,564.00 450.72,569.92 464.10,572.87 477.48,574.35 490.86,575.34" fill="none" stroke="#264f96" stroke-width="1.1"/>
<rect x="436.44" y="563.10" width="1.80" height="1.80" fill="#264f96" />
<rect x="449.82" y="569.02" width="1.80" height="1.80" fill="#264f96" />
<rect x="463.20" y="571.97" width="1.80" height="1.80" fill="#264f96" />
<rect x="476.58" y="573.45" width="1.80" height="1.80" fill="#264f96" />
<rect x="489.96" y="574.44" width="1.80" height="1.80" fill="#264f96" />
<polyline points="437.34,564.00 450.72,571.39 464.10,574.35 477.48,576.33 490.86,577.80" fill="none" stroke="#c41a45" stroke-width="1.1"/>
<rect x="436.44" y="563.10" width="1.80" height="1.80" fill="#c41a45" />
<rect x="449.82" y="570.50" width="1.80" height="1.80" fill="#c41a45" />
<rect x="463.20" y="573.45" width="1.80" height="1.80" fill="#c41a45" />
<rect x="476.58" y="575.43" width="1.80" height="1.80" fill="#c41a45" />
<rect x="489.96" y="576.90" width="1.80" height="1.80" fill="#c41a45" />
<line x1="423.70" y1="587.50" x2="430.20" y2="587.50" stroke="#5db234" stroke-width="1.1" />
<rect x="426.10" y="586.60" width="1.80" height="1.80" fill="#5db234" />
<text x="432.90" y="589.80" font-size="6.8" textLength="17.50" lengthAdjust="spacingAndGlyphs" >sgNT</text>
<line x1="423.70" y1="597.10" x2="430.20" y2="597.10" stroke="#c41a45" stroke-width="1.1" />
<rect x="426.10" y="596.20" width="1.80" height="1.80" fill="#c41a45" />
<text x="432.90" y="599.40" font-size="6.8" textLength="36.00" lengthAdjust="spacingAndGlyphs" >sgHHEX #1</text>
<line x1="423.70" y1="606.70" x2="430.20" y2="606.70" stroke="#264f96" stroke-width="1.1" />
<rect x="426.10" y="605.80" width="1.80" height="1.80" fill="#264f96" />
<text x="432.90" y="609.00" font-size="6.8" textLength="36.00" lengthAdjust="spacingAndGlyphs" >sgHHEX #2</text>
<text x="267.80" y="533.40" font-size="8.6" text-anchor="middle" textLength="81.50" lengthAdjust="spacingAndGlyphs" transform="rotate(-90 267.80 533.40)" >Changes in frequency of</text>
<text x="278.60" y="530.70" font-size="8.6" text-anchor="middle" textLength="56.80" lengthAdjust="spacingAndGlyphs" transform="rotate(-90 278.60 530.70)" >tRFP657+ cells</text>
<text x="8.00" y="526.00" font-size="13.4" font-weight="bold" fill="#000" >I</text>
<text x="66.25" y="532.50" font-size="7.2" textLength="16.75" lengthAdjust="spacingAndGlyphs" >sgNT</text>
<text x="113.75" y="532.50" font-size="7.2" textLength="37.50" lengthAdjust="spacingAndGlyphs" >sgHHEX #1</text>
<text x="178.00" y="532.50" font-size="7.2" textLength="35.75" lengthAdjust="spacingAndGlyphs" >sgHHEX #2</text>
<text x="15.00" y="561.30" font-size="6.6" font-weight="bold" fill="#111" textLength="26.25" lengthAdjust="spacingAndGlyphs" >MEG-01</text>
<text x="11.00" y="609.00" font-size="6.6" font-weight="bold" fill="#111" textLength="30.00" lengthAdjust="spacingAndGlyphs" >Kasumi-1</text>
<clipPath id="cia"><rect x="45.5" y="536.3" width="57.0" height="42.7"/></clipPath><g clip-path="url(#cia)">
<ellipse cx="75.00" cy="556.00" rx="18.00" ry="10.00" fill="#f3eff6" stroke="none" stroke-width="1" filter="url(#bl)"/>
<circle cx="67.60" cy="551.50" r="4.50" fill="#9a8ac6" />
<circle cx="67.60" cy="551.50" r="3.95" fill="#c8abd3" />
<circle cx="67.80" cy="551.70" r="3.24" fill="#ab80bb" filter="url(#bl2)"/>
<circle cx="76.30" cy="550.20" r="4.00" fill="#9a8ac6" />
<circle cx="76.30" cy="550.20" r="3.45" fill="#c8abd3" />
<circle cx="76.50" cy="550.40" r="2.88" fill="#ab80bb" filter="url(#bl2)"/>
<circle cx="83.70" cy="552.90" r="3.60" fill="#9a8ac6" />
<circle cx="83.70" cy="552.90" r="3.05" fill="#c8abd3" />
<circle cx="83.90" cy="553.10" r="2.59" fill="#ab80bb" filter="url(#bl2)"/>
<circle cx="89.10" cy="558.90" r="4.60" fill="#9a8ac6" />
<circle cx="89.10" cy="558.90" r="4.05" fill="#c8abd3" />
<circle cx="89.30" cy="559.10" r="3.31" fill="#a070b2" filter="url(#bl2)"/>
<circle cx="74.30" cy="560.30" r="6.70" fill="#9a8ac6" />
<circle cx="74.30" cy="560.30" r="6.15" fill="#cdb5da" />
<circle cx="74.50" cy="560.50" r="4.82" fill="#b690c4" filter="url(#bl2)"/>
<circle cx="58.80" cy="565.30" r="3.80" fill="#9a8ac6" />
<circle cx="58.80" cy="565.30" r="3.25" fill="#c8abd3" />
<circle cx="59.00" cy="565.50" r="2.74" fill="#a978b8" filter="url(#bl2)"/>
<rect x="93.80" y="576.60" width="9.20" height="1.10" fill="#222" />
<path d="M96.5,542 L98.8,540.2" stroke="#333" fill="none" stroke-width="0.8" />
</g>
<clipPath id="cib"><rect x="105.5" y="536.3" width="56.8" height="42.7"/></clipPath><g clip-path="url(#cib)">
<ellipse cx="134.00" cy="553.00" rx="15.00" ry="9.00" fill="#f3eef6" stroke="none" stroke-width="1" filter="url(#bl)"/>
<circle cx="124.90" cy="544.80" r="4.30" fill="#9a8ac6" />
<circle cx="124.90" cy="544.80" r="3.75" fill="#c8abd3" />
<circle cx="125.10" cy="545.00" r="3.10" fill="#ad7cbb" filter="url(#bl2)"/>
<circle cx="124.20" cy="554.90" r="5.50" fill="#5a4c9c" />
<circle cx="124.20" cy="554.90" r="4.95" fill="#b8a0d0" />
<circle cx="124.40" cy="555.10" r="3.96" fill="#9c74b6" filter="url(#bl2)"/>
<circle cx="134.30" cy="557.60" r="5.00" fill="#9a8ac6" />
<circle cx="134.30" cy="557.60" r="4.45" fill="#c8abd3" />
<circle cx="134.50" cy="557.80" r="3.60" fill="#a672b4" filter="url(#bl2)"/>
<circle cx="143.70" cy="558.30" r="5.00" fill="#9a8ac6" />
<circle cx="143.70" cy="558.30" r="4.45" fill="#c8abd3" />
<circle cx="143.90" cy="558.50" r="3.60" fill="#a876b6" filter="url(#bl2)"/>
<circle cx="152.00" cy="535.50" r="2.50" fill="#c8a8d4" />
<circle cx="157.50" cy="535.80" r="2.20" fill="#b890c8" />
<circle cx="161.50" cy="536.00" r="2.50" fill="#b890c8" />
<circle cx="158.00" cy="553.00" r="0.80" fill="#d8b8d8" />
<circle cx="155.00" cy="557.00" r="0.70" fill="#d8c0e0" />
<rect x="153.20" y="576.60" width="9.80" height="1.10" fill="#222" />
</g>
<clipPath id="cic"><rect x="162.3" y="536.3" width="61.7" height="42.7"/></clipPath><g clip-path="url(#cic)">
<rect x="162.30" y="536.30" width="61.70" height="42.70" fill="#fdfbfd" />
<ellipse cx="192.00" cy="557.00" rx="20.00" ry="16.00" fill="#f0e8f3" stroke="none" stroke-width="1" filter="url(#bl)"/>
<circle cx="170.60" cy="537.80" r="4.60" fill="#9a94cc" />
<circle cx="170.60" cy="537.80" r="4.00" fill="#bc98c8" />
<circle cx="170.90" cy="538.10" r="2.99" fill="#ad80ba" filter="url(#bl2)"/>
<circle cx="171.40" cy="538.80" r="0.83" fill="#dccbe3" filter="url(#bl3)" opacity="0.8"/>
<circle cx="179.20" cy="537.20" r="3.20" fill="#9a94cc" />
<circle cx="179.20" cy="537.20" r="2.60" fill="#bc98c8" />
<circle cx="179.50" cy="537.50" r="2.08" fill="#ad80ba" filter="url(#bl2)"/>
<circle cx="180.00" cy="538.20" r="0.58" fill="#dccbe3" filter="url(#bl3)" opacity="0.8"/>
<circle cx="187.20" cy="538.40" r="4.60" fill="#9a94cc" />
<circle cx="187.20" cy="538.40" r="4.00" fill="#bc98c8" />
<circle cx="187.50" cy="538.70" r="2.99" fill="#ad80ba" filter="url(#bl2)"/>
<circle cx="188.00" cy="539.40" r="0.83" fill="#dccbe3" filter="url(#bl3)" opacity="0.8"/>
<circle cx="181.70" cy="543.20" r="3.00" fill="#9a94cc" />
<circle cx="181.70" cy="543.20" r="2.40" fill="#bc98c8" />
<circle cx="182.00" cy="543.50" r="1.95" fill="#ad80ba" filter="url(#bl2)"/>
<circle cx="182.50" cy="544.20" r="0.54" fill="#dccbe3" filter="url(#bl3)" opacity="0.8"/>
<circle cx="189.10" cy="545.70" r="5.10" fill="#9a94cc" />
<circle cx="189.10" cy="545.70" r="4.50" fill="#bc98c8" />
<circle cx="189.40" cy="546.00" r="3.31" fill="#ad80ba" filter="url(#bl2)"/>
<circle cx="189.90" cy="546.70" r="0.92" fill="#dccbe3" filter="url(#bl3)" opacity="0.8"/>
<circle cx="211.20" cy="546.30" r="4.60" fill="#9a94cc" />
<circle cx="211.20" cy="546.30" r="4.00" fill="#bc98c8" />
<circle cx="211.50" cy="546.60" r="2.99" fill="#ad80ba" filter="url(#bl2)"/>
<circle cx="212.00" cy="547.30" r="0.83" fill="#dccbe3" filter="url(#bl3)" opacity="0.8"/>
<circle cx="197.70" cy="552.50" r="5.20" fill="#9a94cc" />
<circle cx="197.70" cy="552.50" r="4.60" fill="#bc98c8" />
<circle cx="198.00" cy="552.80" r="3.38" fill="#ad80ba" filter="url(#bl2)"/>
<circle cx="198.50" cy="553.50" r="0.94" fill="#dccbe3" filter="url(#bl3)" opacity="0.8"/>
<circle cx="207.50" cy="554.30" r="5.00" fill="#9a94cc" />
<circle cx="207.50" cy="554.30" r="4.40" fill="#bc98c8" />
<circle cx="207.80" cy="554.60" r="3.25" fill="#ad80ba" filter="url(#bl2)"/>
<circle cx="208.30" cy="555.30" r="0.90" fill="#dccbe3" filter="url(#bl3)" opacity="0.8"/>
<circle cx="188.50" cy="556.20" r="5.20" fill="#9a94cc" />
<circle cx="188.50" cy="556.20" r="4.60" fill="#bc98c8" />
<circle cx="188.80" cy="556.50" r="3.38" fill="#ad80ba" filter="url(#bl2)"/>
<circle cx="189.30" cy="557.20" r="0.94" fill="#dccbe3" filter="url(#bl3)" opacity="0.8"/>
<circle cx="183.50" cy="562.30" r="4.70" fill="#9a94cc" />
<circle cx="183.50" cy="562.30" r="4.10" fill="#bc98c8" />
<circle cx="183.80" cy="562.60" r="3.06" fill="#ad80ba" filter="url(#bl2)"/>
<circle cx="184.30" cy="563.30" r="0.85" fill="#dccbe3" filter="url(#bl3)" opacity="0.8"/>
<circle cx="198.90" cy="562.90" r="4.70" fill="#9a94cc" />
<circle cx="198.90" cy="562.90" r="4.10" fill="#bc98c8" />
<circle cx="199.20" cy="563.20" r="3.06" fill="#ad80ba" filter="url(#bl2)"/>
<circle cx="199.70" cy="563.90" r="0.85" fill="#dccbe3" filter="url(#bl3)" opacity="0.8"/>
<circle cx="190.30" cy="567.40" r="5.10" fill="#9a94cc" />
<circle cx="190.30" cy="567.40" r="4.50" fill="#bc98c8" />
<circle cx="190.60" cy="567.70" r="3.31" fill="#ad80ba" filter="url(#bl2)"/>
<circle cx="191.10" cy="568.40" r="0.92" fill="#dccbe3" filter="url(#bl3)" opacity="0.8"/>
<ellipse cx="174.30" cy="574.60" rx="5.00" ry="2.50" fill="#ecd6e6" stroke="none" stroke-width="1" filter="url(#bl)"/>
<ellipse cx="207.50" cy="573.40" rx="3.00" ry="4.00" fill="#ecd6e6" stroke="none" stroke-width="1" filter="url(#bl)"/>
<circle cx="162.60" cy="539.00" r="1.20" fill="#b89ad0" />
<circle cx="162.60" cy="552.50" r="1.00" fill="#d0b0d8" />
<rect x="213.10" y="576.80" width="9.40" height="1.10" fill="#222" />
</g>
<clipPath id="cid"><rect x="45.7" y="584.1" width="56.2" height="42.6"/></clipPath><g clip-path="url(#cid)">
<rect x="45.70" y="584.10" width="56.20" height="42.60" fill="#d8d7d9" />
<circle cx="54.50" cy="599.50" r="4.94" fill="#bcaedc" filter="url(#bl2)"/>
<circle cx="54.50" cy="599.50" r="3.44" fill="#8e4a9f" filter="url(#bl3)"/>
<circle cx="68.50" cy="594.40" r="3.91" fill="#bcaedc" filter="url(#bl2)"/>
<circle cx="68.50" cy="594.40" r="2.72" fill="#8e4a9f" filter="url(#bl3)"/>
<circle cx="66.90" cy="599.80" r="1.38" fill="#bcaedc" filter="url(#bl2)"/>
<circle cx="66.90" cy="599.80" r="0.96" fill="#8e4a9f" filter="url(#bl3)"/>
<circle cx="82.80" cy="596.60" r="4.48" fill="#bcaedc" filter="url(#bl2)"/>
<circle cx="82.80" cy="596.60" r="3.12" fill="#8e4a9f" filter="url(#bl3)"/>
<circle cx="89.10" cy="603.60" r="6.44" fill="#bcaedc" filter="url(#bl2)"/>
<circle cx="89.10" cy="603.60" r="4.30" fill="#8e4a9f" filter="url(#bl3)"/>
<circle cx="56.20" cy="616.80" r="3.91" fill="#bcaedc" filter="url(#bl2)"/>
<circle cx="56.20" cy="616.80" r="2.72" fill="#8e4a9f" filter="url(#bl3)"/>
<rect x="92.20" y="625.00" width="9.40" height="1.10" fill="#222" />
</g>
<clipPath id="cie"><rect x="105.7" y="584.6" width="56.5" height="42.1"/></clipPath><g clip-path="url(#cie)">
<rect x="105.70" y="584.60" width="56.50" height="42.10" fill="#eeeeee" />
<circle cx="125.60" cy="606.30" r="4.60" fill="#bcaedc" filter="url(#bl2)"/>
<circle cx="125.60" cy="606.30" r="3.20" fill="#8e4a9f" filter="url(#bl3)"/>
<circle cx="136.60" cy="602.90" r="4.94" fill="#bcaedc" filter="url(#bl2)"/>
<circle cx="136.60" cy="602.90" r="3.44" fill="#8e4a9f" filter="url(#bl3)"/>
<circle cx="148.50" cy="603.60" r="2.76" fill="#bcaedc" filter="url(#bl2)"/>
<circle cx="148.50" cy="603.60" r="1.92" fill="#8e4a9f" filter="url(#bl3)"/>
<circle cx="159.80" cy="606.90" r="4.02" fill="#bcaedc" filter="url(#bl2)"/>
<circle cx="159.80" cy="606.90" r="2.80" fill="#8e4a9f" filter="url(#bl3)"/>
<circle cx="151.10" cy="623.50" r="3.22" fill="#bcaedc" filter="url(#bl2)"/>
<circle cx="151.10" cy="623.50" r="2.24" fill="#8e4a9f" filter="url(#bl3)"/>
<rect x="151.80" y="625.00" width="9.80" height="1.10" fill="#f4f4f4" />
</g>
<clipPath id="cif"><rect x="162.3" y="584.6" width="61.7" height="42.1"/></clipPath><g clip-path="url(#cif)">
<rect x="162.30" y="584.60" width="61.70" height="42.10" fill="#fefefe" />
<circle cx="175.50" cy="607.60" r="4.83" fill="#bcaedc" filter="url(#bl2)"/>
<circle cx="175.50" cy="607.60" r="3.36" fill="#8e4a9f" filter="url(#bl3)"/>
<circle cx="192.30" cy="603.50" r="3.45" fill="#bcaedc" filter="url(#bl2)"/>
<circle cx="192.30" cy="603.50" r="2.40" fill="#8e4a9f" filter="url(#bl3)"/>
<circle cx="196.30" cy="604.40" r="3.45" fill="#bcaedc" filter="url(#bl2)"/>
<circle cx="196.30" cy="604.40" r="2.40" fill="#8e4a9f" filter="url(#bl3)"/>
<circle cx="193.00" cy="599.20" r="2.07" fill="#bcaedc" filter="url(#bl2)"/>
<circle cx="193.00" cy="599.20" r="1.44" fill="#8e4a9f" filter="url(#bl3)"/>
<circle cx="209.80" cy="606.30" r="3.68" fill="#bcaedc" filter="url(#bl2)"/>
<circle cx="209.80" cy="606.30" r="2.56" fill="#8e4a9f" filter="url(#bl3)"/>
<circle cx="199.30" cy="622.70" r="1.15" fill="#bcaedc" filter="url(#bl2)"/>
<circle cx="199.30" cy="622.70" r="0.80" fill="#8e4a9f" filter="url(#bl3)"/>
<rect x="213.20" y="625.00" width="9.80" height="1.10" fill="#222" />
</g>
<text x="7.60" y="647.20" font-size="13.4" font-weight="bold" fill="#000" >J</text>
<line x1="33.70" y1="651.10" x2="40.70" y2="651.10" stroke="#5db234" stroke-width="1.1" />
<rect x="36.30" y="650.20" width="1.80" height="1.80" fill="#5db234" />
<text x="43.30" y="653.40" font-size="6.8" textLength="16.40" lengthAdjust="spacingAndGlyphs" >sgNT</text>
<line x1="33.70" y1="660.40" x2="40.70" y2="660.40" stroke="#c41a45" stroke-width="1.1" />
<rect x="36.30" y="659.50" width="1.80" height="1.80" fill="#c41a45" />
<text x="43.30" y="662.70" font-size="6.8" textLength="35.40" lengthAdjust="spacingAndGlyphs" >sgHHEX #1</text>
<line x1="33.70" y1="670.00" x2="40.70" y2="670.00" stroke="#264f96" stroke-width="1.1" />
<rect x="36.30" y="669.10" width="1.80" height="1.80" fill="#264f96" />
<text x="43.30" y="672.30" font-size="6.8" textLength="35.90" lengthAdjust="spacingAndGlyphs" >sgHHEX #2</text>
<rect x="26.80" y="678.00" width="68.60" height="68.00" fill="none" stroke="#111" stroke-width="1"/>
<line x1="26.80" y1="746.00" x2="29.50" y2="746.00" stroke="#333" stroke-width="0.5" />
<line x1="26.80" y1="741.10" x2="28.30" y2="741.10" stroke="#333" stroke-width="0.5" />
<line x1="26.80" y1="736.20" x2="28.30" y2="736.20" stroke="#333" stroke-width="0.5" />
<line x1="26.80" y1="731.30" x2="28.30" y2="731.30" stroke="#333" stroke-width="0.5" />
<line x1="26.80" y1="726.40" x2="28.30" y2="726.40" stroke="#333" stroke-width="0.5" />
<line x1="26.80" y1="721.50" x2="29.50" y2="721.50" stroke="#333" stroke-width="0.5" />
<line x1="26.80" y1="716.60" x2="28.30" y2="716.60" stroke="#333" stroke-width="0.5" />
<line x1="26.80" y1="711.70" x2="28.30" y2="711.70" stroke="#333" stroke-width="0.5" />
<line x1="26.80" y1="706.80" x2="28.30" y2="706.80" stroke="#333" stroke-width="0.5" />
<line x1="26.80" y1="701.90" x2="28.30" y2="701.90" stroke="#333" stroke-width="0.5" />
<line x1="26.80" y1="697.00" x2="29.50" y2="697.00" stroke="#333" stroke-width="0.5" />
<line x1="26.80" y1="692.10" x2="28.30" y2="692.10" stroke="#333" stroke-width="0.5" />
<line x1="26.80" y1="687.20" x2="28.30" y2="687.20" stroke="#333" stroke-width="0.5" />
<line x1="26.80" y1="682.30" x2="28.30" y2="682.30" stroke="#333" stroke-width="0.5" />
<line x1="26.80" y1="746.00" x2="26.80" y2="743.30" stroke="#333" stroke-width="0.5" />
<line x1="32.10" y1="746.00" x2="32.10" y2="744.50" stroke="#333" stroke-width="0.5" />
<line x1="37.40" y1="746.00" x2="37.40" y2="744.50" stroke="#333" stroke-width="0.5" />
<line x1="42.70" y1="746.00" x2="42.70" y2="744.50" stroke="#333" stroke-width="0.5" />
<line x1="48.00" y1="746.00" x2="48.00" y2="744.50" stroke="#333" stroke-width="0.5" />
<line x1="53.30" y1="746.00" x2="53.30" y2="743.30" stroke="#333" stroke-width="0.5" />
<line x1="58.60" y1="746.00" x2="58.60" y2="744.50" stroke="#333" stroke-width="0.5" />
<line x1="63.90" y1="746.00" x2="63.90" y2="744.50" stroke="#333" stroke-width="0.5" />
<line x1="69.20" y1="746.00" x2="69.20" y2="744.50" stroke="#333" stroke-width="0.5" />
<line x1="74.50" y1="746.00" x2="74.50" y2="744.50" stroke="#333" stroke-width="0.5" />
<line x1="79.80" y1="746.00" x2="79.80" y2="743.30" stroke="#333" stroke-width="0.5" />
<line x1="85.10" y1="746.00" x2="85.10" y2="744.50" stroke="#333" stroke-width="0.5" />
<line x1="90.40" y1="746.00" x2="90.40" y2="744.50" stroke="#333" stroke-width="0.5" />
<polyline points="27.3,745.4 33.3,745.2 37.5,743.6 41.6,740.1 44.4,737.3 47.2,729.0 49.2,719.3 51.3,702.7 52.7,691.6 53.8,687.5 54.8,690.2 56.2,695.8 57.5,697.9 58.9,696.5 60.7,699.2 62.1,706.2 63.8,700.6 65.9,701.3 68.2,699.2 70.0,702.0 72.1,706.9 74.2,713.8 76.2,720.7 78.3,729.0 80.4,735.9 83.2,741.5 85.9,744.3 88.0,745.4 94.5,745.5" fill="none" stroke="#c41a45" stroke-width="0.9" stroke-linejoin="round"/>
<polyline points="27.3,745.4 33.3,745.2 37.5,743.4 41.6,739.8 44.4,736.8 47.2,728.5 49.2,718.5 51.3,701.5 52.4,693.0 53.4,688.9 54.6,689.3 55.6,692.0 56.9,694.4 58.9,693.6 60.5,695.5 61.7,691.6 62.7,701.3 65.2,703.4 66.7,700.0 67.9,695.8 68.9,700.0 70.0,702.7 72.1,709.6 74.2,717.9 75.6,726.2 76.9,725.5 78.3,733.2 80.4,738.0 83.2,741.5 85.9,744.3 88.0,745.4 94.5,745.5" fill="none" stroke="#264f96" stroke-width="0.9" stroke-linejoin="round"/>
<polyline points="27.3,745.4 38.2,745.0 41.6,742.9 44.4,738.7 47.2,730.4 49.2,720.7 51.3,706.9 52.7,695.8 53.8,684.7 54.8,687.5 55.7,695.8 56.9,704.1 58.2,715.2 60.3,724.9 63.1,733.2 66.6,739.4 70.7,743.6 73.5,745.0 94.5,745.4" fill="none" stroke="#5db234" stroke-width="0.9" stroke-linejoin="round"/>
<line x1="27.80" y1="735.50" x2="27.80" y2="745.80" stroke="#334" stroke-width="0.8" />
<line x1="21.60" y1="752.50" x2="21.60" y2="675.50" stroke="#111" stroke-width="1" />
<path d="M21.6,671.6 L19.3,676.8 L23.9,676.8 Z" stroke="none" fill="#111" stroke-width="1" />
<line x1="21.10" y1="752.50" x2="98.00" y2="752.50" stroke="#111" stroke-width="1" />
<path d="M102,752.5 L96.8,750.2 L96.8,754.8 Z" stroke="none" fill="#111" stroke-width="1" />
<text x="15.80" y="713.50" font-size="9.3" text-anchor="middle" textLength="33.00" lengthAdjust="spacingAndGlyphs" transform="rotate(-90 15.80 713.50)" >Cell count</text>
<text x="47.70" y="763.90" font-size="9.4" textLength="23.50" lengthAdjust="spacingAndGlyphs" >CD11b</text>
<text x="163.75" y="686.20" font-size="8.6" textLength="35.00" lengthAdjust="spacingAndGlyphs" >MEG-01</text>
<text x="129.30" y="691.25" font-size="6.6" textLength="10.20" lengthAdjust="spacingAndGlyphs" >(%)</text>
<line x1="145.50" y1="695.50" x2="145.50" y2="746.10" stroke="#333" stroke-width="1.2" />
<line x1="142.30" y1="698.00" x2="145.50" y2="698.00" stroke="#333" stroke-width="0.9" />
<text x="138.70" y="700.85" font-size="7.3" text-anchor="end" textLength="7.70" lengthAdjust="spacingAndGlyphs" >40</text>
<line x1="142.30" y1="710.00" x2="145.50" y2="710.00" stroke="#333" stroke-width="0.9" />
<text x="138.70" y="712.85" font-size="7.3" text-anchor="end" textLength="7.70" lengthAdjust="spacingAndGlyphs" >30</text>
<line x1="142.30" y1="722.00" x2="145.50" y2="722.00" stroke="#333" stroke-width="0.9" />
<text x="138.70" y="724.85" font-size="7.3" text-anchor="end" textLength="7.70" lengthAdjust="spacingAndGlyphs" >20</text>
<line x1="142.30" y1="734.00" x2="145.50" y2="734.00" stroke="#333" stroke-width="0.9" />
<text x="138.70" y="736.85" font-size="7.3" text-anchor="end" textLength="7.70" lengthAdjust="spacingAndGlyphs" >10</text>
<line x1="142.30" y1="745.50" x2="145.50" y2="745.50" stroke="#333" stroke-width="0.9" />
<text x="138.70" y="748.35" font-size="7.3" text-anchor="end" textLength="3.85" lengthAdjust="spacingAndGlyphs" >0</text>
<rect x="153.00" y="740.80" width="14.50" height="4.70" fill="#b8dca3" stroke="#a3d48c" stroke-width="0.6"/>
<rect x="174.50" y="720.00" width="14.25" height="25.50" fill="#d97a92" stroke="#cc6682" stroke-width="0.6"/>
<rect x="196.25" y="723.30" width="14.25" height="22.20" fill="#95a9cb" stroke="#8399c0" stroke-width="0.6"/>
<line x1="144.90" y1="745.50" x2="217.00" y2="745.50" stroke="#333" stroke-width="1.2" />
<line x1="160.20" y1="745.50" x2="160.20" y2="748.50" stroke="#333" stroke-width="0.9" />
<line x1="181.60" y1="745.50" x2="181.60" y2="748.50" stroke="#333" stroke-width="0.9" />
<line x1="203.40" y1="745.50" x2="203.40" y2="748.50" stroke="#333" stroke-width="0.9" />
<line x1="160.20" y1="739.00" x2="160.20" y2="742.50" stroke="#5db234" stroke-width="1.0" />
<line x1="158.00" y1="742.50" x2="162.40" y2="742.50" stroke="#5db234" stroke-width="1.0" />
<line x1="158.00" y1="740.80" x2="162.40" y2="740.80" stroke="#5db234" stroke-width="1.0" />
<line x1="158.00" y1="739.00" x2="162.40" y2="739.00" stroke="#5db234" stroke-width="1.0" />
<circle cx="157.70" cy="739.30" r="0.85" fill="#5db234" />
<circle cx="162.70" cy="738.60" r="0.85" fill="#5db234" />
<circle cx="160.20" cy="743.00" r="0.85" fill="#5db234" />
<circle cx="159.20" cy="741.00" r="0.85" fill="#5db234" />
<line x1="181.60" y1="716.20" x2="181.60" y2="724.00" stroke="#c41a45" stroke-width="1.0" />
<line x1="179.40" y1="724.00" x2="183.80" y2="724.00" stroke="#c41a45" stroke-width="1.0" />
<line x1="179.40" y1="720.00" x2="183.80" y2="720.00" stroke="#c41a45" stroke-width="1.0" />
<line x1="179.40" y1="716.20" x2="183.80" y2="716.20" stroke="#c41a45" stroke-width="1.0" />
<circle cx="180.10" cy="711.80" r="0.90" fill="#c41a45" />
<circle cx="183.10" cy="715.20" r="0.90" fill="#c41a45" />
<circle cx="180.10" cy="725.50" r="0.90" fill="#c41a45" />
<circle cx="182.80" cy="725.20" r="0.90" fill="#c41a45" />
<line x1="203.40" y1="719.50" x2="203.40" y2="727.00" stroke="#264f96" stroke-width="1.0" />
<line x1="201.20" y1="727.00" x2="205.60" y2="727.00" stroke="#264f96" stroke-width="1.0" />
<line x1="201.20" y1="723.30" x2="205.60" y2="723.30" stroke="#264f96" stroke-width="1.0" />
<line x1="201.20" y1="719.50" x2="205.60" y2="719.50" stroke="#264f96" stroke-width="1.0" />
<circle cx="202.40" cy="716.50" r="0.90" fill="#264f96" />
<circle cx="204.40" cy="717.50" r="0.90" fill="#264f96" />
<circle cx="202.90" cy="726.20" r="0.90" fill="#264f96" />
<circle cx="205.20" cy="725.80" r="0.90" fill="#264f96" />
<circle cx="180.65" cy="702.50" r="0.85" fill="#333" />
<circle cx="183.15" cy="702.50" r="0.85" fill="#333" />
<circle cx="202.45" cy="708.00" r="0.85" fill="#333" />
<circle cx="204.75" cy="708.00" r="0.85" fill="#333" />
<text x="111.80" y="720.00" font-size="8.6" text-anchor="middle" textLength="34.50" lengthAdjust="spacingAndGlyphs" transform="rotate(-90 111.80 720.00)" >Frequency</text>
<text x="123.80" y="720.00" font-size="8.6" text-anchor="middle" textLength="54.00" lengthAdjust="spacingAndGlyphs" transform="rotate(-90 123.80 720.00)" >of CD11b+ cells</text>
<text x="163.50" y="756.80" font-size="7.2" text-anchor="end" textLength="15.50" lengthAdjust="spacingAndGlyphs" transform="rotate(-45 163.50 756.80)" >sgNT</text>
<text x="184.90" y="756.80" font-size="7.2" text-anchor="end" textLength="34.00" lengthAdjust="spacingAndGlyphs" transform="rotate(-45 184.90 756.80)" >sgHHEX #1</text>
<text x="206.70" y="756.80" font-size="7.2" text-anchor="end" textLength="34.00" lengthAdjust="spacingAndGlyphs" transform="rotate(-45 206.70 756.80)" >sgHHEX #2</text>
<text x="227.20" y="647.60" font-size="13.4" font-weight="bold" fill="#000" >K</text>
<text x="288.60" y="686.20" font-size="8.6" textLength="34.70" lengthAdjust="spacingAndGlyphs" >MEG-01</text>
<text x="253.90" y="691.40" font-size="6.6" textLength="10.20" lengthAdjust="spacingAndGlyphs" >(%)</text>
<line x1="270.50" y1="695.80" x2="270.50" y2="746.00" stroke="#333" stroke-width="1.2" />
<line x1="267.30" y1="698.40" x2="270.50" y2="698.40" stroke="#333" stroke-width="0.9" />
<text x="263.70" y="701.25" font-size="7.3" text-anchor="end" textLength="7.70" lengthAdjust="spacingAndGlyphs" >15</text>
<line x1="267.30" y1="714.20" x2="270.50" y2="714.20" stroke="#333" stroke-width="0.9" />
<text x="263.70" y="717.05" font-size="7.3" text-anchor="end" textLength="7.70" lengthAdjust="spacingAndGlyphs" >10</text>
<line x1="267.30" y1="730.10" x2="270.50" y2="730.10" stroke="#333" stroke-width="0.9" />
<text x="263.70" y="732.95" font-size="7.3" text-anchor="end" textLength="3.85" lengthAdjust="spacingAndGlyphs" >5</text>
<line x1="267.30" y1="745.40" x2="270.50" y2="745.40" stroke="#333" stroke-width="0.9" />
<text x="263.70" y="748.25" font-size="7.3" text-anchor="end" textLength="3.85" lengthAdjust="spacingAndGlyphs" >0</text>
<rect x="277.10" y="732.40" width="14.40" height="13.00" fill="#b8dca3" stroke="#a3d48c" stroke-width="0.6"/>
<rect x="297.90" y="718.00" width="15.00" height="27.40" fill="#d97a92" stroke="#cc6682" stroke-width="0.6"/>
<rect x="319.50" y="723.20" width="15.00" height="22.20" fill="#95a9cb" stroke="#8399c0" stroke-width="0.6"/>
<line x1="269.90" y1="745.40" x2="340.60" y2="745.40" stroke="#333" stroke-width="1.2" />
<line x1="284.30" y1="745.40" x2="284.30" y2="748.40" stroke="#333" stroke-width="0.9" />
<line x1="305.40" y1="745.40" x2="305.40" y2="748.40" stroke="#333" stroke-width="0.9" />
<line x1="327.00" y1="745.40" x2="327.00" y2="748.40" stroke="#333" stroke-width="0.9" />
<line x1="284.30" y1="730.50" x2="284.30" y2="734.30" stroke="#5db234" stroke-width="1.0" />
<line x1="282.10" y1="734.30" x2="286.50" y2="734.30" stroke="#5db234" stroke-width="1.0" />
<line x1="282.10" y1="732.40" x2="286.50" y2="732.40" stroke="#5db234" stroke-width="1.0" />
<line x1="282.10" y1="730.50" x2="286.50" y2="730.50" stroke="#5db234" stroke-width="1.0" />
<circle cx="281.80" cy="731.50" r="0.85" fill="#5db234" />
<circle cx="286.80" cy="730.00" r="0.85" fill="#5db234" />
<circle cx="284.30" cy="735.00" r="0.85" fill="#5db234" />
<line x1="305.40" y1="712.60" x2="305.40" y2="723.50" stroke="#c41a45" stroke-width="1.0" />
<line x1="303.20" y1="723.50" x2="307.60" y2="723.50" stroke="#c41a45" stroke-width="1.0" />
<line x1="303.20" y1="718.00" x2="307.60" y2="718.00" stroke="#c41a45" stroke-width="1.0" />
<line x1="303.20" y1="712.60" x2="307.60" y2="712.60" stroke="#c41a45" stroke-width="1.0" />
<circle cx="304.90" cy="698.60" r="0.85" fill="#c41a45" />
<circle cx="305.40" cy="709.00" r="0.85" fill="#c41a45" />
<circle cx="303.40" cy="722.50" r="0.85" fill="#c41a45" />
<circle cx="307.40" cy="721.50" r="0.85" fill="#c41a45" />
<line x1="327.00" y1="721.50" x2="327.00" y2="724.90" stroke="#264f96" stroke-width="1.0" />
<line x1="324.80" y1="724.90" x2="329.20" y2="724.90" stroke="#264f96" stroke-width="1.0" />
<line x1="324.80" y1="723.20" x2="329.20" y2="723.20" stroke="#264f96" stroke-width="1.0" />
<line x1="324.80" y1="721.50" x2="329.20" y2="721.50" stroke="#264f96" stroke-width="1.0" />
<circle cx="325.00" cy="721.00" r="0.85" fill="#264f96" />
<circle cx="329.00" cy="720.50" r="0.85" fill="#264f96" />
<circle cx="326.00" cy="724.50" r="0.85" fill="#264f96" />
<text x="236.20" y="720.30" font-size="8.6" text-anchor="middle" textLength="34.20" lengthAdjust="spacingAndGlyphs" transform="rotate(-90 236.20 720.30)" >Frequency</text>
<text x="248.00" y="719.80" font-size="8.6" text-anchor="middle" textLength="62.60" lengthAdjust="spacingAndGlyphs" transform="rotate(-90 248.00 719.80)" >of annexinV+ cells</text>
<text x="287.60" y="756.70" font-size="7.2" text-anchor="end" textLength="15.50" lengthAdjust="spacingAndGlyphs" transform="rotate(-45 287.60 756.70)" >sgNT</text>
<text x="308.70" y="756.70" font-size="7.2" text-anchor="end" textLength="34.00" lengthAdjust="spacingAndGlyphs" transform="rotate(-45 308.70 756.70)" >sgHHEX #1</text>
<text x="330.30" y="756.70" font-size="7.2" text-anchor="end" textLength="34.00" lengthAdjust="spacingAndGlyphs" transform="rotate(-45 330.30 756.70)" >sgHHEX #2</text>
<text x="381.25" y="686.20" font-size="8.6" textLength="38.75" lengthAdjust="spacingAndGlyphs" >Kasumi-1</text>
<text x="347.70" y="691.40" font-size="6.6" textLength="10.20" lengthAdjust="spacingAndGlyphs" >(%)</text>
<line x1="362.00" y1="695.80" x2="362.00" y2="746.10" stroke="#333" stroke-width="1.2" />
<line x1="358.80" y1="697.60" x2="362.00" y2="697.60" stroke="#333" stroke-width="0.9" />
<text x="355.20" y="700.45" font-size="7.3" text-anchor="end" textLength="7.70" lengthAdjust="spacingAndGlyphs" >10</text>
<line x1="358.80" y1="707.60" x2="362.00" y2="707.60" stroke="#333" stroke-width="0.9" />
<text x="355.20" y="710.45" font-size="7.3" text-anchor="end" textLength="3.85" lengthAdjust="spacingAndGlyphs" >8</text>
<line x1="358.80" y1="717.30" x2="362.00" y2="717.30" stroke="#333" stroke-width="0.9" />
<text x="355.20" y="720.15" font-size="7.3" text-anchor="end" textLength="3.85" lengthAdjust="spacingAndGlyphs" >6</text>
<line x1="358.80" y1="727.00" x2="362.00" y2="727.00" stroke="#333" stroke-width="0.9" />
<text x="355.20" y="729.85" font-size="7.3" text-anchor="end" textLength="3.85" lengthAdjust="spacingAndGlyphs" >4</text>
<line x1="358.80" y1="736.20" x2="362.00" y2="736.20" stroke="#333" stroke-width="0.9" />
<text x="355.20" y="739.05" font-size="7.3" text-anchor="end" textLength="3.85" lengthAdjust="spacingAndGlyphs" >2</text>
<line x1="358.80" y1="745.50" x2="362.00" y2="745.50" stroke="#333" stroke-width="0.9" />
<text x="355.20" y="748.35" font-size="7.3" text-anchor="end" textLength="3.85" lengthAdjust="spacingAndGlyphs" >0</text>
<rect x="371.25" y="725.50" width="15.00" height="20.00" fill="#b8dca3" stroke="#a3d48c" stroke-width="0.6"/>
<rect x="392.50" y="712.00" width="15.00" height="33.50" fill="#d97a92" stroke="#cc6682" stroke-width="0.6"/>
<rect x="413.75" y="711.75" width="15.00" height="33.75" fill="#95a9cb" stroke="#8399c0" stroke-width="0.6"/>
<line x1="361.40" y1="745.50" x2="435.00" y2="745.50" stroke="#333" stroke-width="1.2" />
<line x1="378.75" y1="745.50" x2="378.75" y2="748.50" stroke="#333" stroke-width="0.9" />
<line x1="400.00" y1="745.50" x2="400.00" y2="748.50" stroke="#333" stroke-width="0.9" />
<line x1="421.25" y1="745.50" x2="421.25" y2="748.50" stroke="#333" stroke-width="0.9" />
<line x1="378.75" y1="722.50" x2="378.75" y2="728.50" stroke="#5db234" stroke-width="1.0" />
<line x1="376.55" y1="728.50" x2="380.95" y2="728.50" stroke="#5db234" stroke-width="1.0" />
<line x1="376.55" y1="725.50" x2="380.95" y2="725.50" stroke="#5db234" stroke-width="1.0" />
<line x1="376.55" y1="722.50" x2="380.95" y2="722.50" stroke="#5db234" stroke-width="1.0" />
<circle cx="376.75" cy="722.00" r="0.85" fill="#5db234" />
<circle cx="378.75" cy="721.00" r="0.85" fill="#5db234" />
<circle cx="381.25" cy="722.50" r="0.85" fill="#5db234" />
<circle cx="378.75" cy="734.50" r="0.85" fill="#5db234" />
<circle cx="397.00" cy="712.00" r="0.85" fill="#c41a45" />
<circle cx="398.50" cy="711.00" r="0.85" fill="#c41a45" />
<circle cx="400.00" cy="712.50" r="0.85" fill="#c41a45" />
<circle cx="401.50" cy="711.50" r="0.85" fill="#c41a45" />
<circle cx="403.00" cy="711.00" r="0.85" fill="#c41a45" />
<line x1="396.50" y1="711.80" x2="403.50" y2="711.80" stroke="#c41a45" stroke-width="1" />
<line x1="421.25" y1="709.00" x2="421.25" y2="715.00" stroke="#264f96" stroke-width="1.0" />
<line x1="419.05" y1="715.00" x2="423.45" y2="715.00" stroke="#264f96" stroke-width="1.0" />
<line x1="419.05" y1="711.75" x2="423.45" y2="711.75" stroke="#264f96" stroke-width="1.0" />
<line x1="419.05" y1="709.00" x2="423.45" y2="709.00" stroke="#264f96" stroke-width="1.0" />
<circle cx="421.25" cy="704.00" r="0.85" fill="#264f96" />
<circle cx="419.75" cy="713.00" r="0.85" fill="#264f96" />
<circle cx="422.75" cy="713.50" r="0.85" fill="#264f96" />
<circle cx="421.25" cy="717.00" r="0.85" fill="#264f96" />
<circle cx="399.05" cy="698.75" r="0.85" fill="#333" />
<circle cx="401.35" cy="698.75" r="0.85" fill="#333" />
<circle cx="420.25" cy="696.30" r="0.85" fill="#333" />
<circle cx="422.55" cy="696.30" r="0.85" fill="#333" />
<text x="382.05" y="756.80" font-size="7.2" text-anchor="end" textLength="15.50" lengthAdjust="spacingAndGlyphs" transform="rotate(-45 382.05 756.80)" >sgNT</text>
<text x="403.30" y="756.80" font-size="7.2" text-anchor="end" textLength="34.00" lengthAdjust="spacingAndGlyphs" transform="rotate(-45 403.30 756.80)" >sgHHEX #1</text>
<text x="424.55" y="756.80" font-size="7.2" text-anchor="end" textLength="34.00" lengthAdjust="spacingAndGlyphs" transform="rotate(-45 424.55 756.80)" >sgHHEX #2</text>
<rect x="0" y="0" width="520" height="1.1" fill="#000"/><rect x="0" y="0" width="1.1" height="789" fill="#000"/><rect x="518.6" y="0" width="1.4" height="789" fill="#000"/><rect x="0" y="787.6" width="520" height="1.4" fill="#000"/>
</svg>
</body></html>
